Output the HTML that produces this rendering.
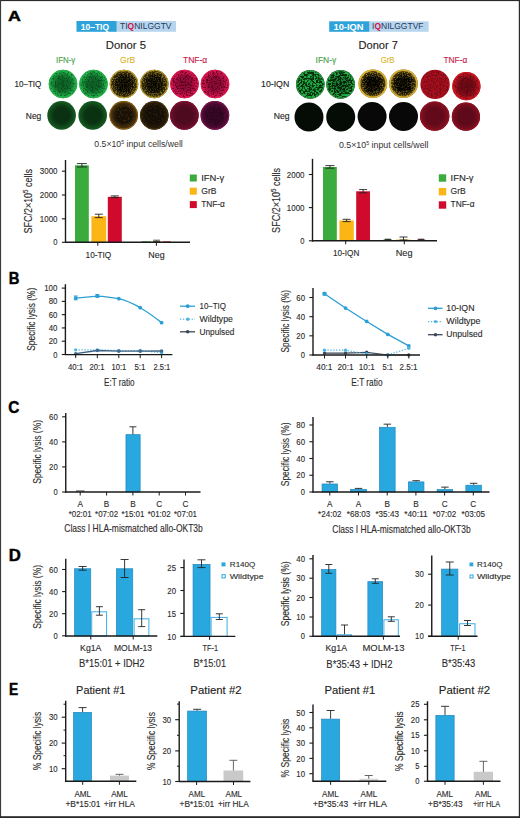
<!DOCTYPE html><html><head><meta charset="utf-8"><style>html,body{margin:0;padding:0;background:#fff;}svg{display:block;} text{font-family:"Liberation Sans", sans-serif;}</style></head><body>
<svg width="520" height="818" viewBox="0 0 520 818">
<defs><filter id="spk" x="0" y="0" width="100%" height="100%"><feTurbulence type="fractalNoise" baseFrequency="0.55" numOctaves="2" seed="3" result="n"/><feColorMatrix in="n" type="matrix" values="0 0 0 0 0  0 0 0 0 0  0 0 0 0 0  0 0 0 -2.2 1.25" result="m"/><feComposite in="m" in2="SourceGraphic" operator="in"/></filter><filter id="spk2" x="0" y="0" width="100%" height="100%"><feTurbulence type="fractalNoise" baseFrequency="0.6" numOctaves="2" seed="7" result="n"/><feColorMatrix in="n" type="matrix" values="0 0 0 0 1  0 0 0 0 1  0 0 0 0 1  0 0 0 -2.6 1.35" result="m"/><feComposite in="m" in2="SourceGraphic" operator="in"/></filter></defs>
<rect x="0" y="0" width="520" height="818" fill="#ffffff" stroke="none" stroke-width="0"/>
<defs><filter id="f2" x="0" y="0" width="100%" height="100%"><feTurbulence type="fractalNoise" baseFrequency="0.6" numOctaves="2" seed="17" result="n"/><feColorMatrix in="n" type="matrix" values="0 0 0 0 0  0 0 0 0 0  0 0 0 0 0  7 0 0 0 -3.5" result="m"/><feComposite in="SourceGraphic" in2="m" operator="in"/></filter><filter id="f3" x="0" y="0" width="100%" height="100%"><feTurbulence type="fractalNoise" baseFrequency="0.75" numOctaves="2" seed="24" result="n"/><feColorMatrix in="n" type="matrix" values="0 0 0 0 0  0 0 0 0 0  0 0 0 0 0  7 0 0 0 -4.34" result="m"/><feComposite in="SourceGraphic" in2="m" operator="in"/></filter><filter id="f5" x="0" y="0" width="100%" height="100%"><feTurbulence type="fractalNoise" baseFrequency="0.6" numOctaves="2" seed="38" result="n"/><feColorMatrix in="n" type="matrix" values="0 0 0 0 0  0 0 0 0 0  0 0 0 0 0  7 0 0 0 -3.5" result="m"/><feComposite in="SourceGraphic" in2="m" operator="in"/></filter><filter id="f6" x="0" y="0" width="100%" height="100%"><feTurbulence type="fractalNoise" baseFrequency="0.75" numOctaves="2" seed="45" result="n"/><feColorMatrix in="n" type="matrix" values="0 0 0 0 0  0 0 0 0 0  0 0 0 0 0  7 0 0 0 -4.34" result="m"/><feComposite in="SourceGraphic" in2="m" operator="in"/></filter><filter id="f8" x="0" y="0" width="100%" height="100%"><feTurbulence type="fractalNoise" baseFrequency="0.8" numOctaves="2" seed="59" result="n"/><feColorMatrix in="n" type="matrix" values="0 0 0 0 0  0 0 0 0 0  0 0 0 0 0  7 0 0 0 -3.5" result="m"/><feComposite in="SourceGraphic" in2="m" operator="in"/></filter><filter id="f9" x="0" y="0" width="100%" height="100%"><feTurbulence type="fractalNoise" baseFrequency="0.9" numOctaves="2" seed="66" result="n"/><feColorMatrix in="n" type="matrix" values="0 0 0 0 0  0 0 0 0 0  0 0 0 0 0  7 0 0 0 -4.2" result="m"/><feComposite in="SourceGraphic" in2="m" operator="in"/></filter><filter id="f11" x="0" y="0" width="100%" height="100%"><feTurbulence type="fractalNoise" baseFrequency="0.8" numOctaves="2" seed="80" result="n"/><feColorMatrix in="n" type="matrix" values="0 0 0 0 0  0 0 0 0 0  0 0 0 0 0  7 0 0 0 -3.5" result="m"/><feComposite in="SourceGraphic" in2="m" operator="in"/></filter><filter id="f12" x="0" y="0" width="100%" height="100%"><feTurbulence type="fractalNoise" baseFrequency="0.9" numOctaves="2" seed="87" result="n"/><feColorMatrix in="n" type="matrix" values="0 0 0 0 0  0 0 0 0 0  0 0 0 0 0  7 0 0 0 -4.2" result="m"/><feComposite in="SourceGraphic" in2="m" operator="in"/></filter><filter id="f14" x="0" y="0" width="100%" height="100%"><feTurbulence type="fractalNoise" baseFrequency="0.6" numOctaves="2" seed="101" result="n"/><feColorMatrix in="n" type="matrix" values="0 0 0 0 0  0 0 0 0 0  0 0 0 0 0  7 0 0 0 -3.5" result="m"/><feComposite in="SourceGraphic" in2="m" operator="in"/></filter><filter id="f15" x="0" y="0" width="100%" height="100%"><feTurbulence type="fractalNoise" baseFrequency="0.75" numOctaves="2" seed="108" result="n"/><feColorMatrix in="n" type="matrix" values="0 0 0 0 0  0 0 0 0 0  0 0 0 0 0  7 0 0 0 -4.48" result="m"/><feComposite in="SourceGraphic" in2="m" operator="in"/></filter><filter id="f17" x="0" y="0" width="100%" height="100%"><feTurbulence type="fractalNoise" baseFrequency="0.6" numOctaves="2" seed="122" result="n"/><feColorMatrix in="n" type="matrix" values="0 0 0 0 0  0 0 0 0 0  0 0 0 0 0  7 0 0 0 -3.5" result="m"/><feComposite in="SourceGraphic" in2="m" operator="in"/></filter><filter id="f18" x="0" y="0" width="100%" height="100%"><feTurbulence type="fractalNoise" baseFrequency="0.75" numOctaves="2" seed="129" result="n"/><feColorMatrix in="n" type="matrix" values="0 0 0 0 0  0 0 0 0 0  0 0 0 0 0  7 0 0 0 -4.48" result="m"/><feComposite in="SourceGraphic" in2="m" operator="in"/></filter><filter id="f22" x="0" y="0" width="100%" height="100%"><feTurbulence type="fractalNoise" baseFrequency="0.5" numOctaves="2" seed="157" result="n"/><feColorMatrix in="n" type="matrix" values="0 0 0 0 0  0 0 0 0 0  0 0 0 0 0  7 0 0 0 -3.85" result="m"/><feComposite in="SourceGraphic" in2="m" operator="in"/></filter><filter id="f24" x="0" y="0" width="100%" height="100%"><feTurbulence type="fractalNoise" baseFrequency="0.5" numOctaves="2" seed="171" result="n"/><feColorMatrix in="n" type="matrix" values="0 0 0 0 0  0 0 0 0 0  0 0 0 0 0  7 0 0 0 -3.85" result="m"/><feComposite in="SourceGraphic" in2="m" operator="in"/></filter><filter id="f27" x="0" y="0" width="100%" height="100%"><feTurbulence type="fractalNoise" baseFrequency="0.5" numOctaves="2" seed="192" result="n"/><feColorMatrix in="n" type="matrix" values="0 0 0 0 0  0 0 0 0 0  0 0 0 0 0  7 0 0 0 -3.85" result="m"/><feComposite in="SourceGraphic" in2="m" operator="in"/></filter><filter id="f29" x="0" y="0" width="100%" height="100%"><feTurbulence type="fractalNoise" baseFrequency="0.55" numOctaves="2" seed="206" result="n"/><feColorMatrix in="n" type="matrix" values="0 0 0 0 0  0 0 0 0 0  0 0 0 0 0  7 0 0 0 -3.15" result="m"/><feComposite in="SourceGraphic" in2="m" operator="in"/></filter><filter id="f31" x="0" y="0" width="100%" height="100%"><feTurbulence type="fractalNoise" baseFrequency="0.55" numOctaves="2" seed="220" result="n"/><feColorMatrix in="n" type="matrix" values="0 0 0 0 0  0 0 0 0 0  0 0 0 0 0  7 0 0 0 -3.22" result="m"/><feComposite in="SourceGraphic" in2="m" operator="in"/></filter><filter id="f33" x="0" y="0" width="100%" height="100%"><feTurbulence type="fractalNoise" baseFrequency="0.8" numOctaves="2" seed="234" result="n"/><feColorMatrix in="n" type="matrix" values="0 0 0 0 0  0 0 0 0 0  0 0 0 0 0  7 0 0 0 -3.5" result="m"/><feComposite in="SourceGraphic" in2="m" operator="in"/></filter><filter id="f34" x="0" y="0" width="100%" height="100%"><feTurbulence type="fractalNoise" baseFrequency="0.9" numOctaves="2" seed="241" result="n"/><feColorMatrix in="n" type="matrix" values="0 0 0 0 0  0 0 0 0 0  0 0 0 0 0  7 0 0 0 -4.2" result="m"/><feComposite in="SourceGraphic" in2="m" operator="in"/></filter><filter id="f36" x="0" y="0" width="100%" height="100%"><feTurbulence type="fractalNoise" baseFrequency="0.8" numOctaves="2" seed="255" result="n"/><feColorMatrix in="n" type="matrix" values="0 0 0 0 0  0 0 0 0 0  0 0 0 0 0  7 0 0 0 -3.5" result="m"/><feComposite in="SourceGraphic" in2="m" operator="in"/></filter><filter id="f37" x="0" y="0" width="100%" height="100%"><feTurbulence type="fractalNoise" baseFrequency="0.9" numOctaves="2" seed="262" result="n"/><feColorMatrix in="n" type="matrix" values="0 0 0 0 0  0 0 0 0 0  0 0 0 0 0  7 0 0 0 -4.2" result="m"/><feComposite in="SourceGraphic" in2="m" operator="in"/></filter><filter id="f39" x="0" y="0" width="100%" height="100%"><feTurbulence type="fractalNoise" baseFrequency="0.6" numOctaves="2" seed="276" result="n"/><feColorMatrix in="n" type="matrix" values="0 0 0 0 0  0 0 0 0 0  0 0 0 0 0  7 0 0 0 -3.5" result="m"/><feComposite in="SourceGraphic" in2="m" operator="in"/></filter><filter id="f40" x="0" y="0" width="100%" height="100%"><feTurbulence type="fractalNoise" baseFrequency="0.75" numOctaves="2" seed="283" result="n"/><feColorMatrix in="n" type="matrix" values="0 0 0 0 0  0 0 0 0 0  0 0 0 0 0  7 0 0 0 -4.48" result="m"/><feComposite in="SourceGraphic" in2="m" operator="in"/></filter><filter id="f42" x="0" y="0" width="100%" height="100%"><feTurbulence type="fractalNoise" baseFrequency="0.6" numOctaves="2" seed="297" result="n"/><feColorMatrix in="n" type="matrix" values="0 0 0 0 0  0 0 0 0 0  0 0 0 0 0  7 0 0 0 -3.5" result="m"/><feComposite in="SourceGraphic" in2="m" operator="in"/></filter><radialGradient id="g1"><stop offset="0" stop-color="#14903a"/><stop offset="0.55" stop-color="#14903a"/><stop offset="1" stop-color="#26b44c"/></radialGradient><radialGradient id="d3"><stop offset="0" stop-color="#000" stop-opacity="0.35"/><stop offset="0.45" stop-color="#000" stop-opacity="0.28"/><stop offset="0.85" stop-color="#000" stop-opacity="0"/></radialGradient><radialGradient id="g4"><stop offset="0" stop-color="#14903a"/><stop offset="0.55" stop-color="#14903a"/><stop offset="1" stop-color="#26b44c"/></radialGradient><radialGradient id="d6"><stop offset="0" stop-color="#000" stop-opacity="0.35"/><stop offset="0.45" stop-color="#000" stop-opacity="0.28"/><stop offset="0.85" stop-color="#000" stop-opacity="0"/></radialGradient><radialGradient id="g7"><stop offset="0" stop-color="#141004"/><stop offset="0.55" stop-color="#141004"/><stop offset="1" stop-color="#4a3c0e"/></radialGradient><radialGradient id="d9"><stop offset="0" stop-color="#000" stop-opacity="0.75"/><stop offset="0.45" stop-color="#000" stop-opacity="0.6"/><stop offset="0.85" stop-color="#000" stop-opacity="0"/></radialGradient><radialGradient id="g10"><stop offset="0" stop-color="#161204"/><stop offset="0.55" stop-color="#161204"/><stop offset="1" stop-color="#4a3c0e"/></radialGradient><radialGradient id="d12"><stop offset="0" stop-color="#000" stop-opacity="0.7"/><stop offset="0.45" stop-color="#000" stop-opacity="0.56"/><stop offset="0.85" stop-color="#000" stop-opacity="0"/></radialGradient><radialGradient id="g13"><stop offset="0" stop-color="#c20e48"/><stop offset="0.55" stop-color="#c20e48"/><stop offset="1" stop-color="#dc1852"/></radialGradient><radialGradient id="d15"><stop offset="0" stop-color="#000" stop-opacity="0.3"/><stop offset="0.45" stop-color="#000" stop-opacity="0.24"/><stop offset="0.85" stop-color="#000" stop-opacity="0"/></radialGradient><radialGradient id="g16"><stop offset="0" stop-color="#c20e48"/><stop offset="0.55" stop-color="#c20e48"/><stop offset="1" stop-color="#dc1852"/></radialGradient><radialGradient id="d18"><stop offset="0" stop-color="#000" stop-opacity="0.3"/><stop offset="0.45" stop-color="#000" stop-opacity="0.24"/><stop offset="0.85" stop-color="#000" stop-opacity="0"/></radialGradient><radialGradient id="g19"><stop offset="0" stop-color="#0a3212"/><stop offset="0.55" stop-color="#0a3212"/><stop offset="1" stop-color="#165c22"/></radialGradient><radialGradient id="g20"><stop offset="0" stop-color="#0a3212"/><stop offset="0.55" stop-color="#0a3212"/><stop offset="1" stop-color="#165c22"/></radialGradient><radialGradient id="g21"><stop offset="0" stop-color="#1a1206"/><stop offset="0.55" stop-color="#1a1206"/><stop offset="1" stop-color="#5e3e10"/></radialGradient><radialGradient id="g23"><stop offset="0" stop-color="#140e06"/><stop offset="0.55" stop-color="#140e06"/><stop offset="1" stop-color="#2e2008"/></radialGradient><radialGradient id="g25"><stop offset="0" stop-color="#4e0a1e"/><stop offset="0.55" stop-color="#4e0a1e"/><stop offset="1" stop-color="#6e0e2c"/></radialGradient><radialGradient id="g26"><stop offset="0" stop-color="#300622"/><stop offset="0.55" stop-color="#300622"/><stop offset="1" stop-color="#5a0c3a"/></radialGradient><radialGradient id="d31"><stop offset="0" stop-color="#000" stop-opacity="0.3"/><stop offset="0.45" stop-color="#000" stop-opacity="0.24"/><stop offset="0.85" stop-color="#000" stop-opacity="0"/></radialGradient><radialGradient id="g32"><stop offset="0" stop-color="#0a0804"/><stop offset="0.55" stop-color="#0a0804"/><stop offset="1" stop-color="#6a5414"/></radialGradient><radialGradient id="d34"><stop offset="0" stop-color="#000" stop-opacity="0.8"/><stop offset="0.45" stop-color="#000" stop-opacity="0.64"/><stop offset="0.85" stop-color="#000" stop-opacity="0"/></radialGradient><radialGradient id="g35"><stop offset="0" stop-color="#0a0804"/><stop offset="0.55" stop-color="#0a0804"/><stop offset="1" stop-color="#6a5414"/></radialGradient><radialGradient id="d37"><stop offset="0" stop-color="#000" stop-opacity="0.8"/><stop offset="0.45" stop-color="#000" stop-opacity="0.64"/><stop offset="0.85" stop-color="#000" stop-opacity="0"/></radialGradient><radialGradient id="g38"><stop offset="0" stop-color="#a00d1b"/><stop offset="0.55" stop-color="#a00d1b"/><stop offset="1" stop-color="#ae101e"/></radialGradient><radialGradient id="g41"><stop offset="0" stop-color="#9a0d1b"/><stop offset="0.55" stop-color="#9a0d1b"/><stop offset="1" stop-color="#c01622"/></radialGradient><radialGradient id="d42"><stop offset="0" stop-color="#000" stop-opacity="0.3"/><stop offset="0.45" stop-color="#000" stop-opacity="0.24"/><stop offset="0.85" stop-color="#000" stop-opacity="0"/></radialGradient><radialGradient id="g47"><stop offset="0" stop-color="#620a1a"/><stop offset="0.55" stop-color="#620a1a"/><stop offset="1" stop-color="#86101f"/></radialGradient><radialGradient id="g48"><stop offset="0" stop-color="#5e0a1a"/><stop offset="0.55" stop-color="#5e0a1a"/><stop offset="1" stop-color="#82101f"/></radialGradient></defs>
<text x="7.9" y="21.3" font-size="15" text-anchor="start" fill="#000" font-weight="bold" textLength="12.9" lengthAdjust="spacingAndGlyphs" stroke="#000" stroke-width="0.45">A</text>
<text x="8.7" y="284.1" font-size="15.7" text-anchor="start" fill="#000" font-weight="bold" textLength="10.7" lengthAdjust="spacingAndGlyphs" stroke="#000" stroke-width="0.45">B</text>
<text x="8.3" y="413.2" font-size="15.7" text-anchor="start" fill="#000" font-weight="bold" textLength="11.1" lengthAdjust="spacingAndGlyphs" stroke="#000" stroke-width="0.45">C</text>
<text x="8.7" y="560.5" font-size="15.7" text-anchor="start" fill="#000" font-weight="bold" textLength="12.1" lengthAdjust="spacingAndGlyphs" stroke="#000" stroke-width="0.45">D</text>
<text x="9.1" y="694.8" font-size="15.9" text-anchor="start" fill="#000" font-weight="bold" textLength="9.2" lengthAdjust="spacingAndGlyphs" stroke="#000" stroke-width="0.45">E</text>
<rect x="76.5" y="21" width="40.3" height="10.8" fill="#2ea3da" stroke="none" stroke-width="0"/>
<rect x="116.8" y="21" width="59.2" height="10.8" fill="#b7d6ee" stroke="none" stroke-width="0"/>
<text x="80.8" y="29.9" font-size="8.5" text-anchor="start" fill="#ffffff" font-weight="bold" textLength="28.2" lengthAdjust="spacingAndGlyphs">10&#8211;TIQ</text>
<text x="120" y="29.4" font-size="8.5" fill="#283a5e" textLength="51.5" lengthAdjust="spacingAndGlyphs">TI<tspan fill="#d31145" font-weight="bold">Q</tspan>NILGGTV</text>
<rect x="329.2" y="21.3" width="40.4" height="10.5" fill="#2ea3da" stroke="none" stroke-width="0"/>
<rect x="369.6" y="21.3" width="59" height="10.5" fill="#b7d6ee" stroke="none" stroke-width="0"/>
<text x="333.5" y="29.8" font-size="8.5" text-anchor="start" fill="#ffffff" font-weight="bold" textLength="30" lengthAdjust="spacingAndGlyphs">10-IQN</text>
<text x="372.1" y="29.4" font-size="8.5" fill="#283a5e" textLength="51.4" lengthAdjust="spacingAndGlyphs">I<tspan fill="#d31145" font-weight="bold">Q</tspan>NILGGTVF</text>
<text x="105.8" y="49.4" font-size="11" text-anchor="start" fill="#222" font-weight="normal" stroke="#222" stroke-width="0.12" textLength="40.2" lengthAdjust="spacingAndGlyphs">Donor 5</text>
<text x="358.5" y="49" font-size="11" text-anchor="start" fill="#222" font-weight="normal" stroke="#222" stroke-width="0.12" textLength="39.5" lengthAdjust="spacingAndGlyphs">Donor 7</text>
<text x="56" y="63.4" font-size="8.6" text-anchor="start" fill="#3fa24a" font-weight="normal" stroke="#3fa24a" stroke-width="0.12" textLength="19.2" lengthAdjust="spacingAndGlyphs">IFN-&#947;</text>
<text x="120" y="62.8" font-size="8.6" text-anchor="start" fill="#deb52a" font-weight="normal" stroke="#deb52a" stroke-width="0.12" textLength="15.2" lengthAdjust="spacingAndGlyphs">GrB</text>
<text x="183" y="63.2" font-size="8.6" text-anchor="start" fill="#c8184a" font-weight="normal" stroke="#c8184a" stroke-width="0.12" textLength="24.3" lengthAdjust="spacingAndGlyphs">TNF-&#945;</text>
<text x="315.6" y="63.2" font-size="8.6" text-anchor="start" fill="#3fa24a" font-weight="normal" stroke="#3fa24a" stroke-width="0.12" textLength="20.7" lengthAdjust="spacingAndGlyphs">IFN-&#947;</text>
<text x="380.7" y="63" font-size="8.6" text-anchor="start" fill="#deb52a" font-weight="normal" stroke="#deb52a" stroke-width="0.12" textLength="13.9" lengthAdjust="spacingAndGlyphs">GrB</text>
<text x="443.5" y="63.4" font-size="8.6" text-anchor="start" fill="#c8184a" font-weight="normal" stroke="#c8184a" stroke-width="0.12" textLength="23.7" lengthAdjust="spacingAndGlyphs">TNF-&#945;</text>
<text x="14.5" y="87" font-size="8.5" text-anchor="start" fill="#222" font-weight="normal" stroke="#222" stroke-width="0.12" textLength="26.8" lengthAdjust="spacingAndGlyphs">10&#8211;TIQ</text>
<text x="25.8" y="118.9" font-size="8.5" text-anchor="start" fill="#222" font-weight="normal" stroke="#222" stroke-width="0.12" textLength="15.5" lengthAdjust="spacingAndGlyphs">Neg</text>
<text x="261" y="86.9" font-size="8.5" text-anchor="start" fill="#222" font-weight="normal" stroke="#222" stroke-width="0.12" textLength="28.3" lengthAdjust="spacingAndGlyphs">10-IQN</text>
<text x="273.8" y="118.6" font-size="8.5" text-anchor="start" fill="#222" font-weight="normal" stroke="#222" stroke-width="0.12" textLength="15.8" lengthAdjust="spacingAndGlyphs">Neg</text>
<circle cx="63" cy="84" r="14.3" fill="url(#g1)"/>
<circle cx="63" cy="84" r="13.7" fill="#0a6424" filter="url(#f2)" opacity="0.85"/>
<circle cx="63" cy="84" r="13.7" fill="#40c858" filter="url(#f3)" opacity="0.45"/>
<circle cx="63" cy="84" r="14.3" fill="url(#d3)"/>
<circle cx="63" cy="84" r="13.8" fill="none" stroke="#2cb04c" stroke-width="1"/>
<circle cx="93.5" cy="84" r="14.3" fill="url(#g4)"/>
<circle cx="93.5" cy="84" r="13.7" fill="#0a6424" filter="url(#f5)" opacity="0.85"/>
<circle cx="93.5" cy="84" r="13.7" fill="#40c858" filter="url(#f6)" opacity="0.45"/>
<circle cx="93.5" cy="84" r="14.3" fill="url(#d6)"/>
<circle cx="93.5" cy="84" r="13.8" fill="none" stroke="#2cb04c" stroke-width="1"/>
<circle cx="124" cy="84" r="14.3" fill="url(#g7)"/>
<circle cx="124" cy="84" r="13.7" fill="#8a7620" filter="url(#f8)" opacity="0.85"/>
<circle cx="124" cy="84" r="13.7" fill="#d0b038" filter="url(#f9)" opacity="0.45"/>
<circle cx="124" cy="84" r="14.3" fill="url(#d9)"/>
<circle cx="124" cy="84" r="13.85" fill="none" stroke="#dcbc36" stroke-width="0.9"/>
<circle cx="154.3" cy="84" r="14.3" fill="url(#g10)"/>
<circle cx="154.3" cy="84" r="13.7" fill="#8a7620" filter="url(#f11)" opacity="0.85"/>
<circle cx="154.3" cy="84" r="13.7" fill="#d0b038" filter="url(#f12)" opacity="0.45"/>
<circle cx="154.3" cy="84" r="14.3" fill="url(#d12)"/>
<circle cx="154.3" cy="84" r="13.85" fill="none" stroke="#d4b434" stroke-width="0.9"/>
<circle cx="184.5" cy="84" r="14.3" fill="url(#g13)"/>
<circle cx="184.5" cy="84" r="13.7" fill="#5e0624" filter="url(#f14)" opacity="0.85"/>
<circle cx="184.5" cy="84" r="13.7" fill="#ee3c70" filter="url(#f15)" opacity="0.2"/>
<circle cx="184.5" cy="84" r="14.3" fill="url(#d15)"/>
<circle cx="184.5" cy="84" r="13.85" fill="none" stroke="#dc1a52" stroke-width="0.9"/>
<circle cx="215" cy="84" r="14.3" fill="url(#g16)"/>
<circle cx="215" cy="84" r="13.7" fill="#5e0624" filter="url(#f17)" opacity="0.85"/>
<circle cx="215" cy="84" r="13.7" fill="#ee3c70" filter="url(#f18)" opacity="0.2"/>
<circle cx="215" cy="84" r="14.3" fill="url(#d18)"/>
<circle cx="215" cy="84" r="13.85" fill="none" stroke="#dc1a52" stroke-width="0.9"/>
<circle cx="61.6" cy="115.4" r="14.3" fill="url(#g19)"/>
<circle cx="92.7" cy="115.4" r="14.3" fill="url(#g20)"/>
<circle cx="123.7" cy="115.3" r="14.3" fill="url(#g21)"/>
<circle cx="123.7" cy="115.3" r="13.7" fill="#5a3c10" filter="url(#f22)" opacity="0.5"/>
<circle cx="123.7" cy="115.3" r="13.8" fill="none" stroke="#8a6018" stroke-width="1"/>
<circle cx="154.3" cy="115.4" r="14.3" fill="url(#g23)"/>
<circle cx="154.3" cy="115.4" r="13.7" fill="#3a2a10" filter="url(#f24)" opacity="0.5"/>
<circle cx="154.3" cy="115.4" r="13.85" fill="none" stroke="#4a3810" stroke-width="0.9"/>
<circle cx="184.4" cy="115.4" r="14.3" fill="url(#g25)"/>
<circle cx="184.4" cy="115.4" r="13.7" fill="none" stroke="#7a1030" stroke-width="1.2"/>
<circle cx="214.9" cy="115.4" r="14.3" fill="url(#g26)"/>
<circle cx="214.9" cy="115.4" r="13.7" fill="#5a0c38" filter="url(#f27)" opacity="0.5"/>
<circle cx="214.9" cy="115.4" r="13.7" fill="none" stroke="#721248" stroke-width="1.2"/>
<circle cx="310.3" cy="84.4" r="14.3" fill="#0a300f"/>
<circle cx="310.3" cy="84.4" r="13.7" fill="#22b446" filter="url(#f29)" opacity="0.95"/>
<circle cx="310.3" cy="84.4" r="13.8" fill="none" stroke="#26a844" stroke-width="1"/>
<circle cx="340.6" cy="84.4" r="14.3" fill="#0a300f"/>
<circle cx="340.6" cy="84.4" r="13.7" fill="#22b446" filter="url(#f31)" opacity="0.95"/>
<circle cx="340.6" cy="84.4" r="14.3" fill="url(#d31)"/>
<circle cx="340.6" cy="84.4" r="13.8" fill="none" stroke="#26a844" stroke-width="1"/>
<circle cx="372.9" cy="83.7" r="14.3" fill="url(#g32)"/>
<circle cx="372.9" cy="83.7" r="13.7" fill="#8a7620" filter="url(#f33)" opacity="0.9"/>
<circle cx="372.9" cy="83.7" r="13.7" fill="#d0b038" filter="url(#f34)" opacity="0.7"/>
<circle cx="372.9" cy="83.7" r="14.3" fill="url(#d34)"/>
<circle cx="372.9" cy="83.7" r="13.5" fill="none" stroke="#dcb432" stroke-width="1.6"/>
<circle cx="403.5" cy="83.7" r="14.3" fill="url(#g35)"/>
<circle cx="403.5" cy="83.7" r="13.7" fill="#8a7620" filter="url(#f36)" opacity="0.9"/>
<circle cx="403.5" cy="83.7" r="13.7" fill="#d0b038" filter="url(#f37)" opacity="0.7"/>
<circle cx="403.5" cy="83.7" r="14.3" fill="url(#d37)"/>
<circle cx="403.5" cy="83.7" r="13.5" fill="none" stroke="#d4ae32" stroke-width="1.6"/>
<circle cx="435.1" cy="84.4" r="14.7" fill="url(#g38)"/>
<circle cx="435.1" cy="84.4" r="14.1" fill="#680a14" filter="url(#f39)" opacity="0.8"/>
<circle cx="435.1" cy="84.4" r="14.1" fill="#d02a34" filter="url(#f40)" opacity="0.3"/>
<circle cx="466.4" cy="86.2" r="14.1" fill="url(#g41)"/>
<circle cx="466.4" cy="86.2" r="13.5" fill="#680a16" filter="url(#f42)" opacity="0.8"/>
<circle cx="466.4" cy="86.2" r="14.1" fill="url(#d42)"/>
<circle cx="466.4" cy="86.2" r="13.5" fill="none" stroke="#c81822" stroke-width="1.2"/>
<circle cx="309" cy="117.1" r="14.5" fill="#050c05"/>
<circle cx="340.7" cy="117.1" r="14.5" fill="#050c05"/>
<circle cx="372.1" cy="116.6" r="14.5" fill="#080808"/>
<circle cx="403.5" cy="116.6" r="14.5" fill="#080808"/>
<circle cx="434.7" cy="116.1" r="14.7" fill="url(#g47)"/>
<circle cx="434.7" cy="116.1" r="14" fill="none" stroke="#8e1022" stroke-width="1.4"/>
<circle cx="465.9" cy="116.7" r="14.1" fill="url(#g48)"/>
<circle cx="465.9" cy="116.7" r="13.4" fill="none" stroke="#8a1022" stroke-width="1.4"/>
<text x="94.3" y="147.3" font-size="8.4" fill="#333" textLength="88.5" lengthAdjust="spacingAndGlyphs">0.5&#215;10<tspan font-size="5" dy="-3.2">5</tspan><tspan dy="3.2"> input cells/well</tspan></text>
<text x="338.9" y="147.8" font-size="8.4" fill="#333" textLength="89.6" lengthAdjust="spacingAndGlyphs">0.5&#215;10<tspan font-size="5" dy="-3.2">5</tspan><tspan dy="3.2"> input cells/well</tspan></text>
<line x1="65.5" y1="160" x2="65.5" y2="242.6" stroke="#1a1a1a" stroke-width="1.4"/>
<line x1="61.9" y1="171.2" x2="65.5" y2="171.2" stroke="#1a1a1a" stroke-width="1.1"/>
<text x="57.5" y="174.3" font-size="8.8" text-anchor="end" fill="#2b2b2b" font-weight="normal" stroke="#2b2b2b" stroke-width="0.12" textLength="17.7" lengthAdjust="spacingAndGlyphs">3000</text>
<line x1="61.9" y1="195" x2="65.5" y2="195" stroke="#1a1a1a" stroke-width="1.1"/>
<text x="57.5" y="198.1" font-size="8.8" text-anchor="end" fill="#2b2b2b" font-weight="normal" stroke="#2b2b2b" stroke-width="0.12" textLength="17.7" lengthAdjust="spacingAndGlyphs">2000</text>
<line x1="61.9" y1="218.8" x2="65.5" y2="218.8" stroke="#1a1a1a" stroke-width="1.1"/>
<text x="57.5" y="221.9" font-size="8.8" text-anchor="end" fill="#2b2b2b" font-weight="normal" stroke="#2b2b2b" stroke-width="0.12" textLength="17.7" lengthAdjust="spacingAndGlyphs">1000</text>
<line x1="61.9" y1="242.3" x2="65.5" y2="242.3" stroke="#1a1a1a" stroke-width="1.1"/>
<text x="57.5" y="245.4" font-size="8.8" text-anchor="end" fill="#2b2b2b" font-weight="normal" stroke="#2b2b2b" stroke-width="0.12" textLength="4.2" lengthAdjust="spacingAndGlyphs">0</text>
<rect x="75" y="165.3" width="13.8" height="76.7" fill="#3aab3c" stroke="none" stroke-width="0"/>
<rect x="91.4" y="216.2" width="14.8" height="25.8" fill="#fbb616" stroke="none" stroke-width="0"/>
<rect x="107.8" y="196.8" width="14" height="45.2" fill="#cf0a2c" stroke="none" stroke-width="0"/>
<line x1="81.9" y1="163.6" x2="81.9" y2="167" stroke="#222" stroke-width="0.9"/>
<line x1="76.9" y1="163.6" x2="86.9" y2="163.6" stroke="#222" stroke-width="0.9"/>
<line x1="76.9" y1="167" x2="86.9" y2="167" stroke="#222" stroke-width="0.9"/>
<line x1="98.8" y1="214.2" x2="98.8" y2="217.6" stroke="#222" stroke-width="0.9"/>
<line x1="94.8" y1="214.2" x2="102.8" y2="214.2" stroke="#222" stroke-width="0.9"/>
<line x1="94.8" y1="217.6" x2="102.8" y2="217.6" stroke="#222" stroke-width="0.9"/>
<line x1="114.8" y1="195.9" x2="114.8" y2="197.6" stroke="#222" stroke-width="0.9"/>
<line x1="110.8" y1="195.9" x2="118.8" y2="195.9" stroke="#222" stroke-width="0.9"/>
<line x1="110.8" y1="197.6" x2="118.8" y2="197.6" stroke="#222" stroke-width="0.9"/>
<rect x="141.5" y="241.3" width="9.5" height="0.7" fill="#3aab3c" stroke="none" stroke-width="0"/>
<rect x="152.5" y="241.2" width="8.5" height="0.8" fill="#fbb616" stroke="none" stroke-width="0"/>
<rect x="162.5" y="241.4" width="8.5" height="0.6" fill="#cf0a2c" stroke="none" stroke-width="0"/>
<line x1="156.6" y1="240.2" x2="156.6" y2="241.5" stroke="#333" stroke-width="0.8"/>
<line x1="153.1" y1="240.2" x2="160.1" y2="240.2" stroke="#333" stroke-width="0.8"/>
<line x1="153.1" y1="241.5" x2="160.1" y2="241.5" stroke="#333" stroke-width="0.8"/>
<text x="85.6" y="257.8" font-size="8.5" text-anchor="start" fill="#2b2b2b" font-weight="normal" stroke="#2b2b2b" stroke-width="0.12" textLength="25.7" lengthAdjust="spacingAndGlyphs">10-TIQ</text>
<text x="148.3" y="257.6" font-size="8.5" text-anchor="start" fill="#2b2b2b" font-weight="normal" stroke="#2b2b2b" stroke-width="0.12" textLength="16.3" lengthAdjust="spacingAndGlyphs">Neg</text>
<text transform="translate(31.6,201.3) rotate(-90)" x="0" y="0" font-size="10.4" text-anchor="middle" fill="#2b2b2b" stroke="#2b2b2b" stroke-width="0.12" textLength="64.5" lengthAdjust="spacingAndGlyphs">SFC/2&#215;10<tspan font-size="7" dy="-3.6">5</tspan><tspan dy="3.6"> cells</tspan></text>
<rect x="189.8" y="174.5" width="7" height="7" fill="#3aab3c" stroke="none" stroke-width="0"/>
<rect x="189.8" y="187.7" width="7" height="7" fill="#fbb616" stroke="none" stroke-width="0"/>
<rect x="189.8" y="201.1" width="7" height="7" fill="#cf0a2c" stroke="none" stroke-width="0"/>
<text x="201.2" y="181" font-size="8.4" text-anchor="start" fill="#2b2b2b" font-weight="normal" stroke="#2b2b2b" stroke-width="0.12" textLength="23" lengthAdjust="spacingAndGlyphs">IFN-&#947;</text>
<text x="201.2" y="193.6" font-size="8.4" text-anchor="start" fill="#2b2b2b" font-weight="normal" stroke="#2b2b2b" stroke-width="0.12" textLength="15.3" lengthAdjust="spacingAndGlyphs">GrB</text>
<text x="201.2" y="207.3" font-size="8.4" text-anchor="start" fill="#2b2b2b" font-weight="normal" stroke="#2b2b2b" stroke-width="0.12" textLength="23.7" lengthAdjust="spacingAndGlyphs">TNF-&#945;</text>
<line x1="312.5" y1="158.8" x2="312.5" y2="241.6" stroke="#1a1a1a" stroke-width="1.4"/>
<line x1="308.9" y1="174.5" x2="312.5" y2="174.5" stroke="#1a1a1a" stroke-width="1.1"/>
<text x="304.5" y="177.6" font-size="8.8" text-anchor="end" fill="#2b2b2b" font-weight="normal" stroke="#2b2b2b" stroke-width="0.12" textLength="17.7" lengthAdjust="spacingAndGlyphs">2000</text>
<line x1="308.9" y1="207.6" x2="312.5" y2="207.6" stroke="#1a1a1a" stroke-width="1.1"/>
<text x="304.5" y="210.7" font-size="8.8" text-anchor="end" fill="#2b2b2b" font-weight="normal" stroke="#2b2b2b" stroke-width="0.12" textLength="17.7" lengthAdjust="spacingAndGlyphs">1000</text>
<line x1="308.9" y1="240.8" x2="312.5" y2="240.8" stroke="#1a1a1a" stroke-width="1.1"/>
<text x="304.5" y="243.9" font-size="8.8" text-anchor="end" fill="#2b2b2b" font-weight="normal" stroke="#2b2b2b" stroke-width="0.12" textLength="4.2" lengthAdjust="spacingAndGlyphs">0</text>
<rect x="323" y="167" width="13.8" height="73.5" fill="#3aab3c" stroke="none" stroke-width="0"/>
<rect x="339.4" y="220.5" width="14.4" height="20" fill="#fbb616" stroke="none" stroke-width="0"/>
<rect x="356.2" y="191.3" width="13.8" height="49.2" fill="#cf0a2c" stroke="none" stroke-width="0"/>
<line x1="329.9" y1="165.6" x2="329.9" y2="168.2" stroke="#222" stroke-width="0.9"/>
<line x1="325.4" y1="165.6" x2="334.4" y2="165.6" stroke="#222" stroke-width="0.9"/>
<line x1="325.4" y1="168.2" x2="334.4" y2="168.2" stroke="#222" stroke-width="0.9"/>
<line x1="346.6" y1="219.3" x2="346.6" y2="221.6" stroke="#222" stroke-width="0.9"/>
<line x1="342.6" y1="219.3" x2="350.6" y2="219.3" stroke="#222" stroke-width="0.9"/>
<line x1="342.6" y1="221.6" x2="350.6" y2="221.6" stroke="#222" stroke-width="0.9"/>
<line x1="363.1" y1="189.6" x2="363.1" y2="192.8" stroke="#222" stroke-width="0.9"/>
<line x1="359.1" y1="189.6" x2="367.1" y2="189.6" stroke="#222" stroke-width="0.9"/>
<line x1="359.1" y1="192.8" x2="367.1" y2="192.8" stroke="#222" stroke-width="0.9"/>
<rect x="383.5" y="239.4" width="8.5" height="1.6" fill="#3aab3c" stroke="none" stroke-width="0"/>
<rect x="396" y="239.6" width="15" height="1.4" fill="#fbb616" stroke="none" stroke-width="0"/>
<rect x="417" y="239.6" width="8.5" height="1.4" fill="#cf0a2c" stroke="none" stroke-width="0"/>
<line x1="387.8" y1="239.2" x2="387.8" y2="239.8" stroke="#222" stroke-width="0.9"/>
<line x1="384.8" y1="239.2" x2="390.8" y2="239.2" stroke="#222" stroke-width="0.9"/>
<line x1="384.8" y1="239.8" x2="390.8" y2="239.8" stroke="#222" stroke-width="0.9"/>
<line x1="403.5" y1="237" x2="403.5" y2="240" stroke="#222" stroke-width="0.9"/>
<line x1="399.5" y1="237" x2="407.5" y2="237" stroke="#222" stroke-width="0.9"/>
<line x1="399.5" y1="240" x2="407.5" y2="240" stroke="#222" stroke-width="0.9"/>
<line x1="421.2" y1="239.2" x2="421.2" y2="239.8" stroke="#222" stroke-width="0.9"/>
<line x1="418.2" y1="239.2" x2="424.2" y2="239.2" stroke="#222" stroke-width="0.9"/>
<line x1="418.2" y1="239.8" x2="424.2" y2="239.8" stroke="#222" stroke-width="0.9"/>
<text x="333" y="256.2" font-size="8.5" text-anchor="start" fill="#2b2b2b" font-weight="normal" stroke="#2b2b2b" stroke-width="0.12" textLength="26.3" lengthAdjust="spacingAndGlyphs">10-IQN</text>
<text x="395.7" y="256.2" font-size="8.5" text-anchor="start" fill="#2b2b2b" font-weight="normal" stroke="#2b2b2b" stroke-width="0.12" textLength="16.8" lengthAdjust="spacingAndGlyphs">Neg</text>
<text transform="translate(279.9,200.4) rotate(-90)" x="0" y="0" font-size="10.4" text-anchor="middle" fill="#2b2b2b" stroke="#2b2b2b" stroke-width="0.12" textLength="65" lengthAdjust="spacingAndGlyphs">SFC/2&#215;10<tspan font-size="7" dy="-3.6">5</tspan><tspan dy="3.6"> cells</tspan></text>
<rect x="438.8" y="174.3" width="7.4" height="7.4" fill="#3aab3c" stroke="none" stroke-width="0"/>
<rect x="438.8" y="188" width="7.4" height="7.4" fill="#fbb616" stroke="none" stroke-width="0"/>
<rect x="438.8" y="201.3" width="7.4" height="7.4" fill="#cf0a2c" stroke="none" stroke-width="0"/>
<text x="450.5" y="180.9" font-size="8.2" text-anchor="start" fill="#2b2b2b" font-weight="normal" stroke="#2b2b2b" stroke-width="0.12" textLength="23.1" lengthAdjust="spacingAndGlyphs">IFN-&#947;</text>
<text x="450.5" y="194.2" font-size="8.2" text-anchor="start" fill="#2b2b2b" font-weight="normal" stroke="#2b2b2b" stroke-width="0.12" textLength="15.3" lengthAdjust="spacingAndGlyphs">GrB</text>
<text x="450.5" y="207" font-size="8.2" text-anchor="start" fill="#2b2b2b" font-weight="normal" stroke="#2b2b2b" stroke-width="0.12" textLength="24" lengthAdjust="spacingAndGlyphs">TNF-&#945;</text>
<line x1="65.4" y1="284.2" x2="65.4" y2="355.1" stroke="#1a1a1a" stroke-width="1.4"/>
<line x1="61.8" y1="288.1" x2="65.4" y2="288.1" stroke="#1a1a1a" stroke-width="1.1"/>
<text x="57.4" y="291.2" font-size="8.8" text-anchor="end" fill="#2b2b2b" font-weight="normal" stroke="#2b2b2b" stroke-width="0.12" textLength="13.2" lengthAdjust="spacingAndGlyphs">100</text>
<line x1="61.8" y1="301.38" x2="65.4" y2="301.38" stroke="#1a1a1a" stroke-width="1.1"/>
<text x="57.4" y="304.48" font-size="8.8" text-anchor="end" fill="#2b2b2b" font-weight="normal" stroke="#2b2b2b" stroke-width="0.12" textLength="8.7" lengthAdjust="spacingAndGlyphs">80</text>
<line x1="61.8" y1="314.66" x2="65.4" y2="314.66" stroke="#1a1a1a" stroke-width="1.1"/>
<text x="57.4" y="317.76" font-size="8.8" text-anchor="end" fill="#2b2b2b" font-weight="normal" stroke="#2b2b2b" stroke-width="0.12" textLength="8.7" lengthAdjust="spacingAndGlyphs">60</text>
<line x1="61.8" y1="327.94" x2="65.4" y2="327.94" stroke="#1a1a1a" stroke-width="1.1"/>
<text x="57.4" y="331.04" font-size="8.8" text-anchor="end" fill="#2b2b2b" font-weight="normal" stroke="#2b2b2b" stroke-width="0.12" textLength="8.7" lengthAdjust="spacingAndGlyphs">40</text>
<line x1="61.8" y1="341.22" x2="65.4" y2="341.22" stroke="#1a1a1a" stroke-width="1.1"/>
<text x="57.4" y="344.32" font-size="8.8" text-anchor="end" fill="#2b2b2b" font-weight="normal" stroke="#2b2b2b" stroke-width="0.12" textLength="8.7" lengthAdjust="spacingAndGlyphs">20</text>
<line x1="61.8" y1="354.5" x2="65.4" y2="354.5" stroke="#1a1a1a" stroke-width="1.1"/>
<text x="57.4" y="357.6" font-size="8.8" text-anchor="end" fill="#2b2b2b" font-weight="normal" stroke="#2b2b2b" stroke-width="0.12" textLength="4.2" lengthAdjust="spacingAndGlyphs">0</text>
<path d="M75.7,298.06 L97.3,296.07 C104,296.07 111,297.92 118.8,298.72 C126,300.22 133,303.69 140.2,307.69 C147,311.69 154,316.63 161.6,322.63" fill="none" stroke="#2b9fd6" stroke-width="1.3"/>
<circle cx="75.7" cy="298.06" r="1.9" fill="#2b9fd6"/>
<circle cx="97.3" cy="296.07" r="1.9" fill="#2b9fd6"/>
<circle cx="118.8" cy="298.72" r="1.9" fill="#2b9fd6"/>
<circle cx="140.2" cy="307.69" r="1.9" fill="#2b9fd6"/>
<circle cx="161.6" cy="322.63" r="1.9" fill="#2b9fd6"/>
<line x1="75.7" y1="296" x2="75.7" y2="299.8" stroke="#2b9fd6" stroke-width="1"/>
<line x1="73.7" y1="296" x2="77.7" y2="296" stroke="#2b9fd6" stroke-width="1"/>
<line x1="73.7" y1="299.8" x2="77.7" y2="299.8" stroke="#2b9fd6" stroke-width="1"/>
<line x1="97.3" y1="294.5" x2="97.3" y2="297.2" stroke="#2b9fd6" stroke-width="1"/>
<line x1="95.3" y1="294.5" x2="99.3" y2="294.5" stroke="#2b9fd6" stroke-width="1"/>
<line x1="95.3" y1="297.2" x2="99.3" y2="297.2" stroke="#2b9fd6" stroke-width="1"/>
<path d="M75.7,349.85 L97.3,349.85 L118.8,350.52 L140.2,350.52 L161.6,352.84" fill="none" stroke="#52b4e2" stroke-width="1.2" stroke-dasharray="1.3,1.6"/>
<circle cx="75.7" cy="349.85" r="1.7" fill="#52b4e2"/>
<circle cx="97.3" cy="349.85" r="1.7" fill="#52b4e2"/>
<circle cx="118.8" cy="350.52" r="1.7" fill="#52b4e2"/>
<circle cx="140.2" cy="350.52" r="1.7" fill="#52b4e2"/>
<circle cx="161.6" cy="352.84" r="1.7" fill="#52b4e2"/>
<path d="M75.7,353.7 L97.3,350.52 L118.8,351.18 L140.2,351.18 L161.6,350.98" fill="none" stroke="#3a5f80" stroke-width="1.3"/>
<circle cx="75.7" cy="353.7" r="1.8" fill="#3d6a8e"/>
<circle cx="97.3" cy="350.52" r="1.8" fill="#3d6a8e"/>
<circle cx="118.8" cy="351.18" r="1.8" fill="#3d6a8e"/>
<circle cx="140.2" cy="351.18" r="1.8" fill="#3d6a8e"/>
<circle cx="161.6" cy="350.98" r="1.8" fill="#3d6a8e"/>
<text x="68" y="369.5" font-size="8.9" text-anchor="start" fill="#2b2b2b" font-weight="normal" stroke="#2b2b2b" stroke-width="0.12" textLength="15.2" lengthAdjust="spacingAndGlyphs">40:1</text>
<text x="89.6" y="369.5" font-size="8.9" text-anchor="start" fill="#2b2b2b" font-weight="normal" stroke="#2b2b2b" stroke-width="0.12" textLength="14.9" lengthAdjust="spacingAndGlyphs">20:1</text>
<text x="111.4" y="369.5" font-size="8.9" text-anchor="start" fill="#2b2b2b" font-weight="normal" stroke="#2b2b2b" stroke-width="0.12" textLength="14.9" lengthAdjust="spacingAndGlyphs">10:1</text>
<text x="134.4" y="369.5" font-size="8.9" text-anchor="start" fill="#2b2b2b" font-weight="normal" stroke="#2b2b2b" stroke-width="0.12" textLength="11" lengthAdjust="spacingAndGlyphs">5:1</text>
<text x="153.5" y="369.5" font-size="8.9" text-anchor="start" fill="#2b2b2b" font-weight="normal" stroke="#2b2b2b" stroke-width="0.12" textLength="16.8" lengthAdjust="spacingAndGlyphs">2.5:1</text>
<text x="104.1" y="385.9" font-size="10" text-anchor="start" fill="#2b2b2b" font-weight="normal" stroke="#2b2b2b" stroke-width="0.12" textLength="30.4" lengthAdjust="spacingAndGlyphs">E:T ratio</text>
<text transform="translate(34.9,319.2) rotate(-90)" x="0" y="0" font-size="10.5" text-anchor="middle" fill="#2b2b2b" stroke="#2b2b2b" stroke-width="0.12" textLength="63" lengthAdjust="spacingAndGlyphs">Specific lysis (%)</text>
<line x1="180" y1="306.2" x2="195" y2="306.2" stroke="#2b9fd6" stroke-width="1.3"/>
<circle cx="187.7" cy="306.2" r="1.9" fill="#2b9fd6"/>
<line x1="180" y1="319.2" x2="195" y2="319.2" stroke="#52b4e2" stroke-width="1.2" stroke-dasharray="1.3,1.6"/>
<circle cx="187.7" cy="319.2" r="1.7" fill="#52b4e2"/>
<line x1="180" y1="331.8" x2="195" y2="331.8" stroke="#3c4757" stroke-width="1.3"/>
<circle cx="187.7" cy="331.8" r="1.8" fill="#3c4757"/>
<text x="199.5" y="308.9" font-size="8.5" text-anchor="start" fill="#2b2b2b" font-weight="normal" stroke="#2b2b2b" stroke-width="0.12" textLength="26.5" lengthAdjust="spacingAndGlyphs">10&#8211;TIQ</text>
<text x="199.5" y="322" font-size="8.5" text-anchor="start" fill="#2b2b2b" font-weight="normal" stroke="#2b2b2b" stroke-width="0.12" textLength="33.3" lengthAdjust="spacingAndGlyphs">Wildtype</text>
<text x="199.5" y="334.6" font-size="8.5" text-anchor="start" fill="#2b2b2b" font-weight="normal" stroke="#2b2b2b" stroke-width="0.12" textLength="34.9" lengthAdjust="spacingAndGlyphs">Unpulsed</text>
<line x1="313" y1="288" x2="313" y2="355.6" stroke="#1a1a1a" stroke-width="1.4"/>
<line x1="309.4" y1="297.5" x2="313" y2="297.5" stroke="#1a1a1a" stroke-width="1.1"/>
<text x="305" y="300.6" font-size="8.8" text-anchor="end" fill="#2b2b2b" font-weight="normal" stroke="#2b2b2b" stroke-width="0.12" textLength="8.7" lengthAdjust="spacingAndGlyphs">60</text>
<line x1="309.4" y1="316.67" x2="313" y2="316.67" stroke="#1a1a1a" stroke-width="1.1"/>
<text x="305" y="319.77" font-size="8.8" text-anchor="end" fill="#2b2b2b" font-weight="normal" stroke="#2b2b2b" stroke-width="0.12" textLength="8.7" lengthAdjust="spacingAndGlyphs">40</text>
<line x1="309.4" y1="335.83" x2="313" y2="335.83" stroke="#1a1a1a" stroke-width="1.1"/>
<text x="305" y="338.93" font-size="8.8" text-anchor="end" fill="#2b2b2b" font-weight="normal" stroke="#2b2b2b" stroke-width="0.12" textLength="8.7" lengthAdjust="spacingAndGlyphs">20</text>
<line x1="309.4" y1="355" x2="313" y2="355" stroke="#1a1a1a" stroke-width="1.1"/>
<text x="305" y="358.1" font-size="8.8" text-anchor="end" fill="#2b2b2b" font-weight="normal" stroke="#2b2b2b" stroke-width="0.12" textLength="4.2" lengthAdjust="spacingAndGlyphs">0</text>
<path d="M324.5,293.67 L345.5,308.04 L366.7,321.46 L387.8,334.4 L408.8,345.9" fill="none" stroke="#2b9fd6" stroke-width="1.3"/>
<circle cx="324.5" cy="293.67" r="1.9" fill="#2b9fd6"/>
<circle cx="345.5" cy="308.04" r="1.9" fill="#2b9fd6"/>
<circle cx="366.7" cy="321.46" r="1.9" fill="#2b9fd6"/>
<circle cx="387.8" cy="334.4" r="1.9" fill="#2b9fd6"/>
<circle cx="408.8" cy="345.9" r="1.9" fill="#2b9fd6"/>
<rect x="322.6" y="291.9" width="3.8" height="3.8" fill="#2b9fd6" stroke="none" stroke-width="0"/>
<path d="M324.5,353.08 L345.5,353.08 L366.7,352.32 L387.8,355 L408.8,355" fill="none" stroke="#3c4757" stroke-width="1.2"/>
<circle cx="324.5" cy="353.08" r="1.7" fill="#3c4757"/>
<circle cx="345.5" cy="353.08" r="1.7" fill="#3c4757"/>
<circle cx="366.7" cy="352.32" r="1.7" fill="#3c4757"/>
<circle cx="387.8" cy="355" r="1.7" fill="#3c4757"/>
<circle cx="408.8" cy="355" r="1.7" fill="#3c4757"/>
<path d="M324.5,350.21 L345.5,350.21 L366.7,354.04 L387.8,355 L408.8,348.29" fill="none" stroke="#52b4e2" stroke-width="1.2" stroke-dasharray="1.3,1.6"/>
<circle cx="324.5" cy="350.21" r="1.7" fill="#52b4e2"/>
<circle cx="345.5" cy="350.21" r="1.7" fill="#52b4e2"/>
<circle cx="366.7" cy="354.04" r="1.7" fill="#52b4e2"/>
<circle cx="387.8" cy="355" r="1.7" fill="#52b4e2"/>
<circle cx="408.8" cy="348.29" r="1.7" fill="#52b4e2"/>
<text x="316.3" y="369.8" font-size="8.9" text-anchor="start" fill="#2b2b2b" font-weight="normal" stroke="#2b2b2b" stroke-width="0.12" textLength="16.2" lengthAdjust="spacingAndGlyphs">40:1</text>
<text x="337.5" y="369.8" font-size="8.9" text-anchor="start" fill="#2b2b2b" font-weight="normal" stroke="#2b2b2b" stroke-width="0.12" textLength="16" lengthAdjust="spacingAndGlyphs">20:1</text>
<text x="358.8" y="369.8" font-size="8.9" text-anchor="start" fill="#2b2b2b" font-weight="normal" stroke="#2b2b2b" stroke-width="0.12" textLength="15.9" lengthAdjust="spacingAndGlyphs">10:1</text>
<text x="382.5" y="369.8" font-size="8.9" text-anchor="start" fill="#2b2b2b" font-weight="normal" stroke="#2b2b2b" stroke-width="0.12" textLength="10.5" lengthAdjust="spacingAndGlyphs">5:1</text>
<text x="399.6" y="369.8" font-size="8.9" text-anchor="start" fill="#2b2b2b" font-weight="normal" stroke="#2b2b2b" stroke-width="0.12" textLength="17.9" lengthAdjust="spacingAndGlyphs">2.5:1</text>
<text x="351.3" y="385.6" font-size="10" text-anchor="start" fill="#2b2b2b" font-weight="normal" stroke="#2b2b2b" stroke-width="0.12" textLength="31.2" lengthAdjust="spacingAndGlyphs">E:T ratio</text>
<text transform="translate(288.5,321.2) rotate(-90)" x="0" y="0" font-size="10.5" text-anchor="middle" fill="#2b2b2b" stroke="#2b2b2b" stroke-width="0.12" textLength="62.5" lengthAdjust="spacingAndGlyphs">Specific lysis (%)</text>
<line x1="428" y1="308.3" x2="442.6" y2="308.3" stroke="#2b9fd6" stroke-width="1.3"/>
<circle cx="435.5" cy="308.3" r="1.9" fill="#2b9fd6"/>
<line x1="428" y1="321.6" x2="442.6" y2="321.6" stroke="#52b4e2" stroke-width="1.2" stroke-dasharray="1.3,1.6"/>
<circle cx="435.5" cy="321.6" r="1.7" fill="#52b4e2"/>
<line x1="428" y1="334.7" x2="442.6" y2="334.7" stroke="#3c4757" stroke-width="1.3"/>
<circle cx="435.5" cy="334.7" r="1.8" fill="#3c4757"/>
<text x="446.3" y="311.1" font-size="8.5" text-anchor="start" fill="#2b2b2b" font-weight="normal" stroke="#2b2b2b" stroke-width="0.12" textLength="28.2" lengthAdjust="spacingAndGlyphs">10-IQN</text>
<text x="446.3" y="324.2" font-size="8.5" text-anchor="start" fill="#2b2b2b" font-weight="normal" stroke="#2b2b2b" stroke-width="0.12" textLength="34.2" lengthAdjust="spacingAndGlyphs">Wildtype</text>
<text x="446.3" y="337.2" font-size="8.5" text-anchor="start" fill="#2b2b2b" font-weight="normal" stroke="#2b2b2b" stroke-width="0.12" textLength="36.2" lengthAdjust="spacingAndGlyphs">Unpulsed</text>
<line x1="65.75" y1="413" x2="65.75" y2="492.6" stroke="#1a1a1a" stroke-width="1.4"/>
<line x1="62.15" y1="416.8" x2="65.75" y2="416.8" stroke="#1a1a1a" stroke-width="1.1"/>
<text x="57.75" y="419.9" font-size="8.8" text-anchor="end" fill="#2b2b2b" font-weight="normal" stroke="#2b2b2b" stroke-width="0.12" textLength="8.7" lengthAdjust="spacingAndGlyphs">60</text>
<line x1="62.15" y1="441.87" x2="65.75" y2="441.87" stroke="#1a1a1a" stroke-width="1.1"/>
<text x="57.75" y="444.97" font-size="8.8" text-anchor="end" fill="#2b2b2b" font-weight="normal" stroke="#2b2b2b" stroke-width="0.12" textLength="8.7" lengthAdjust="spacingAndGlyphs">40</text>
<line x1="62.15" y1="466.93" x2="65.75" y2="466.93" stroke="#1a1a1a" stroke-width="1.1"/>
<text x="57.75" y="470.03" font-size="8.8" text-anchor="end" fill="#2b2b2b" font-weight="normal" stroke="#2b2b2b" stroke-width="0.12" textLength="8.7" lengthAdjust="spacingAndGlyphs">20</text>
<line x1="62.15" y1="492" x2="65.75" y2="492" stroke="#1a1a1a" stroke-width="1.1"/>
<text x="57.75" y="495.1" font-size="8.8" text-anchor="end" fill="#2b2b2b" font-weight="normal" stroke="#2b2b2b" stroke-width="0.12" textLength="4.2" lengthAdjust="spacingAndGlyphs">0</text>
<rect x="125.95" y="434.65" width="14.2" height="57.35" fill="#29a8e0" stroke="#2487bd" stroke-width="0.7"/>
<line x1="132.9" y1="426.8" x2="132.9" y2="434.3" stroke="#222" stroke-width="0.9"/>
<line x1="129.4" y1="426.8" x2="136.4" y2="426.8" stroke="#222" stroke-width="0.9"/>
<line x1="76" y1="491" x2="84.5" y2="491" stroke="#333" stroke-width="1"/>
<text x="80.2" y="506.8" font-size="8.2" text-anchor="middle" fill="#2b2b2b" font-weight="normal" stroke="#2b2b2b" stroke-width="0.12">A</text>
<text x="80.2" y="517.3" font-size="8.5" text-anchor="middle" fill="#2b2b2b" font-weight="normal" stroke="#2b2b2b" stroke-width="0.12" textLength="23" lengthAdjust="spacingAndGlyphs">*02:01</text>
<text x="106.6" y="506.8" font-size="8.2" text-anchor="middle" fill="#2b2b2b" font-weight="normal" stroke="#2b2b2b" stroke-width="0.12">B</text>
<text x="106.6" y="517.3" font-size="8.5" text-anchor="middle" fill="#2b2b2b" font-weight="normal" stroke="#2b2b2b" stroke-width="0.12" textLength="23" lengthAdjust="spacingAndGlyphs">*07:02</text>
<text x="132.9" y="506.8" font-size="8.2" text-anchor="middle" fill="#2b2b2b" font-weight="normal" stroke="#2b2b2b" stroke-width="0.12">B</text>
<text x="132.9" y="517.3" font-size="8.5" text-anchor="middle" fill="#2b2b2b" font-weight="normal" stroke="#2b2b2b" stroke-width="0.12" textLength="23" lengthAdjust="spacingAndGlyphs">*15:01</text>
<text x="159.2" y="506.8" font-size="8.2" text-anchor="middle" fill="#2b2b2b" font-weight="normal" stroke="#2b2b2b" stroke-width="0.12">C</text>
<text x="159.2" y="517.3" font-size="8.5" text-anchor="middle" fill="#2b2b2b" font-weight="normal" stroke="#2b2b2b" stroke-width="0.12" textLength="23" lengthAdjust="spacingAndGlyphs">*01:02</text>
<text x="185.5" y="506.8" font-size="8.2" text-anchor="middle" fill="#2b2b2b" font-weight="normal" stroke="#2b2b2b" stroke-width="0.12">C</text>
<text x="185.5" y="517.3" font-size="8.5" text-anchor="middle" fill="#2b2b2b" font-weight="normal" stroke="#2b2b2b" stroke-width="0.12" textLength="23" lengthAdjust="spacingAndGlyphs">*07:01</text>
<text x="64.3" y="532.4" font-size="10.8" text-anchor="start" fill="#2b2b2b" font-weight="normal" stroke="#2b2b2b" stroke-width="0.12" textLength="138.5" lengthAdjust="spacingAndGlyphs">Class I HLA-mismatched allo-OKT3b</text>
<text transform="translate(40.8,451.9) rotate(-90)" x="0" y="0" font-size="10.5" text-anchor="middle" fill="#2b2b2b" stroke="#2b2b2b" stroke-width="0.12" textLength="63.7" lengthAdjust="spacingAndGlyphs">Specific lysis (%)</text>
<line x1="313" y1="417" x2="313" y2="492.6" stroke="#1a1a1a" stroke-width="1.4"/>
<line x1="309.4" y1="425" x2="313" y2="425" stroke="#1a1a1a" stroke-width="1.1"/>
<text x="305" y="428.1" font-size="8.8" text-anchor="end" fill="#2b2b2b" font-weight="normal" stroke="#2b2b2b" stroke-width="0.12" textLength="8.7" lengthAdjust="spacingAndGlyphs">80</text>
<line x1="309.4" y1="441.75" x2="313" y2="441.75" stroke="#1a1a1a" stroke-width="1.1"/>
<text x="305" y="444.85" font-size="8.8" text-anchor="end" fill="#2b2b2b" font-weight="normal" stroke="#2b2b2b" stroke-width="0.12" textLength="8.7" lengthAdjust="spacingAndGlyphs">60</text>
<line x1="309.4" y1="458.5" x2="313" y2="458.5" stroke="#1a1a1a" stroke-width="1.1"/>
<text x="305" y="461.6" font-size="8.8" text-anchor="end" fill="#2b2b2b" font-weight="normal" stroke="#2b2b2b" stroke-width="0.12" textLength="8.7" lengthAdjust="spacingAndGlyphs">40</text>
<line x1="309.4" y1="475.25" x2="313" y2="475.25" stroke="#1a1a1a" stroke-width="1.1"/>
<text x="305" y="478.35" font-size="8.8" text-anchor="end" fill="#2b2b2b" font-weight="normal" stroke="#2b2b2b" stroke-width="0.12" textLength="8.7" lengthAdjust="spacingAndGlyphs">20</text>
<line x1="309.4" y1="492" x2="313" y2="492" stroke="#1a1a1a" stroke-width="1.1"/>
<text x="305" y="495.1" font-size="8.8" text-anchor="end" fill="#2b2b2b" font-weight="normal" stroke="#2b2b2b" stroke-width="0.12" textLength="4.2" lengthAdjust="spacingAndGlyphs">0</text>
<rect x="322.05" y="483.98" width="15.6" height="8.03" fill="#29a8e0" stroke="#2487bd" stroke-width="0.7"/>
<line x1="329.85" y1="481.78" x2="329.85" y2="483.62" stroke="#222" stroke-width="0.9"/>
<line x1="326.1" y1="481.78" x2="333.6" y2="481.78" stroke="#222" stroke-width="0.9"/>
<rect x="350.55" y="489.34" width="15.9" height="2.66" fill="#29a8e0" stroke="#2487bd" stroke-width="0.7"/>
<line x1="358.5" y1="488.4" x2="358.5" y2="488.99" stroke="#222" stroke-width="0.9"/>
<line x1="354.75" y1="488.4" x2="362.25" y2="488.4" stroke="#222" stroke-width="0.9"/>
<rect x="379.55" y="427.28" width="15.6" height="64.72" fill="#29a8e0" stroke="#2487bd" stroke-width="0.7"/>
<line x1="387.35" y1="424.16" x2="387.35" y2="426.93" stroke="#222" stroke-width="0.9"/>
<line x1="383.6" y1="424.16" x2="391.1" y2="424.16" stroke="#222" stroke-width="0.9"/>
<rect x="408.35" y="481.88" width="15.6" height="10.12" fill="#29a8e0" stroke="#2487bd" stroke-width="0.7"/>
<line x1="416.15" y1="480.69" x2="416.15" y2="481.53" stroke="#222" stroke-width="0.9"/>
<line x1="412.4" y1="480.69" x2="419.9" y2="480.69" stroke="#222" stroke-width="0.9"/>
<rect x="437.15" y="489.5" width="15.5" height="2.5" fill="#29a8e0" stroke="#2487bd" stroke-width="0.7"/>
<line x1="444.9" y1="487.14" x2="444.9" y2="489.15" stroke="#222" stroke-width="0.9"/>
<line x1="441.15" y1="487.14" x2="448.65" y2="487.14" stroke="#222" stroke-width="0.9"/>
<rect x="465.85" y="485.23" width="15.6" height="6.77" fill="#29a8e0" stroke="#2487bd" stroke-width="0.7"/>
<line x1="473.65" y1="483.29" x2="473.65" y2="484.88" stroke="#222" stroke-width="0.9"/>
<line x1="469.9" y1="483.29" x2="477.4" y2="483.29" stroke="#222" stroke-width="0.9"/>
<text x="329.8" y="506.8" font-size="8.2" text-anchor="middle" fill="#2b2b2b" font-weight="normal" stroke="#2b2b2b" stroke-width="0.12">A</text>
<text x="329.8" y="517.3" font-size="8.5" text-anchor="middle" fill="#2b2b2b" font-weight="normal" stroke="#2b2b2b" stroke-width="0.12" textLength="23.5" lengthAdjust="spacingAndGlyphs">*24:02</text>
<text x="358.5" y="506.8" font-size="8.2" text-anchor="middle" fill="#2b2b2b" font-weight="normal" stroke="#2b2b2b" stroke-width="0.12">A</text>
<text x="358.5" y="517.3" font-size="8.5" text-anchor="middle" fill="#2b2b2b" font-weight="normal" stroke="#2b2b2b" stroke-width="0.12" textLength="23.5" lengthAdjust="spacingAndGlyphs">*68:03</text>
<text x="387.2" y="506.8" font-size="8.2" text-anchor="middle" fill="#2b2b2b" font-weight="normal" stroke="#2b2b2b" stroke-width="0.12">B</text>
<text x="387.2" y="517.3" font-size="8.5" text-anchor="middle" fill="#2b2b2b" font-weight="normal" stroke="#2b2b2b" stroke-width="0.12" textLength="23.5" lengthAdjust="spacingAndGlyphs">*35:43</text>
<text x="415.9" y="506.8" font-size="8.2" text-anchor="middle" fill="#2b2b2b" font-weight="normal" stroke="#2b2b2b" stroke-width="0.12">B</text>
<text x="415.9" y="517.3" font-size="8.5" text-anchor="middle" fill="#2b2b2b" font-weight="normal" stroke="#2b2b2b" stroke-width="0.12" textLength="23.5" lengthAdjust="spacingAndGlyphs">*40:11</text>
<text x="444.6" y="506.8" font-size="8.2" text-anchor="middle" fill="#2b2b2b" font-weight="normal" stroke="#2b2b2b" stroke-width="0.12">C</text>
<text x="444.6" y="517.3" font-size="8.5" text-anchor="middle" fill="#2b2b2b" font-weight="normal" stroke="#2b2b2b" stroke-width="0.12" textLength="23.5" lengthAdjust="spacingAndGlyphs">*07:02</text>
<text x="473.3" y="506.8" font-size="8.2" text-anchor="middle" fill="#2b2b2b" font-weight="normal" stroke="#2b2b2b" stroke-width="0.12">C</text>
<text x="473.3" y="517.3" font-size="8.5" text-anchor="middle" fill="#2b2b2b" font-weight="normal" stroke="#2b2b2b" stroke-width="0.12" textLength="23.5" lengthAdjust="spacingAndGlyphs">*03:05</text>
<text x="332.3" y="532.8" font-size="10.8" text-anchor="start" fill="#2b2b2b" font-weight="normal" stroke="#2b2b2b" stroke-width="0.12" textLength="138.3" lengthAdjust="spacingAndGlyphs">Class I HLA-mismatched allo-OKT3b</text>
<text transform="translate(288.5,454.4) rotate(-90)" x="0" y="0" font-size="10.5" text-anchor="middle" fill="#2b2b2b" stroke="#2b2b2b" stroke-width="0.12" textLength="63.7" lengthAdjust="spacingAndGlyphs">Specific lysis (%)</text>
<line x1="65.75" y1="558.8" x2="65.75" y2="636.6" stroke="#1a1a1a" stroke-width="1.4"/>
<line x1="62.15" y1="569.5" x2="65.75" y2="569.5" stroke="#1a1a1a" stroke-width="1.1"/>
<text x="57.75" y="572.6" font-size="8.8" text-anchor="end" fill="#2b2b2b" font-weight="normal" stroke="#2b2b2b" stroke-width="0.12" textLength="8.7" lengthAdjust="spacingAndGlyphs">60</text>
<line x1="62.15" y1="591.6" x2="65.75" y2="591.6" stroke="#1a1a1a" stroke-width="1.1"/>
<text x="57.75" y="594.7" font-size="8.8" text-anchor="end" fill="#2b2b2b" font-weight="normal" stroke="#2b2b2b" stroke-width="0.12" textLength="8.7" lengthAdjust="spacingAndGlyphs">40</text>
<line x1="62.15" y1="613.7" x2="65.75" y2="613.7" stroke="#1a1a1a" stroke-width="1.1"/>
<text x="57.75" y="616.8" font-size="8.8" text-anchor="end" fill="#2b2b2b" font-weight="normal" stroke="#2b2b2b" stroke-width="0.12" textLength="8.7" lengthAdjust="spacingAndGlyphs">20</text>
<line x1="62.15" y1="635.8" x2="65.75" y2="635.8" stroke="#1a1a1a" stroke-width="1.1"/>
<text x="57.75" y="638.9" font-size="8.8" text-anchor="end" fill="#2b2b2b" font-weight="normal" stroke="#2b2b2b" stroke-width="0.12" textLength="4.2" lengthAdjust="spacingAndGlyphs">0</text>
<rect x="74.55" y="568.75" width="16.2" height="67.25" fill="#29a8e0" stroke="#2487bd" stroke-width="0.7"/>
<rect x="91.7" y="611.8" width="14.9" height="24.2" fill="#fff" stroke="#3aaee4" stroke-width="1"/>
<rect x="116.35" y="568.75" width="16.4" height="67.25" fill="#29a8e0" stroke="#2487bd" stroke-width="0.7"/>
<rect x="134.1" y="618.8" width="14.8" height="17.2" fill="#fff" stroke="#3aaee4" stroke-width="1"/>
<line x1="82.6" y1="566.5" x2="82.6" y2="570.2" stroke="#222" stroke-width="0.9"/>
<line x1="78.6" y1="566.5" x2="86.6" y2="566.5" stroke="#222" stroke-width="0.9"/>
<line x1="78.6" y1="570.2" x2="86.6" y2="570.2" stroke="#222" stroke-width="0.9"/>
<line x1="99.4" y1="606.7" x2="99.4" y2="615.2" stroke="#222" stroke-width="0.9"/>
<line x1="95.9" y1="606.7" x2="102.9" y2="606.7" stroke="#222" stroke-width="0.9"/>
<line x1="95.9" y1="615.2" x2="102.9" y2="615.2" stroke="#222" stroke-width="0.9"/>
<line x1="124.6" y1="559.5" x2="124.6" y2="577.5" stroke="#222" stroke-width="0.9"/>
<line x1="120.6" y1="559.5" x2="128.6" y2="559.5" stroke="#222" stroke-width="0.9"/>
<line x1="120.6" y1="577.5" x2="128.6" y2="577.5" stroke="#222" stroke-width="0.9"/>
<line x1="141.7" y1="609.7" x2="141.7" y2="626.6" stroke="#222" stroke-width="0.9"/>
<line x1="138.2" y1="609.7" x2="145.2" y2="609.7" stroke="#222" stroke-width="0.9"/>
<line x1="138.2" y1="626.6" x2="145.2" y2="626.6" stroke="#222" stroke-width="0.9"/>
<text x="80.1" y="651.1" font-size="8.5" text-anchor="start" fill="#2b2b2b" font-weight="normal" stroke="#2b2b2b" stroke-width="0.12" textLength="21.3" lengthAdjust="spacingAndGlyphs">Kg1A</text>
<text x="114" y="651.1" font-size="8.5" text-anchor="start" fill="#2b2b2b" font-weight="normal" stroke="#2b2b2b" stroke-width="0.12" textLength="38" lengthAdjust="spacingAndGlyphs">MOLM-13</text>
<text x="79" y="667.4" font-size="10.8" text-anchor="start" fill="#2b2b2b" font-weight="normal" stroke="#2b2b2b" stroke-width="0.12" textLength="65.6" lengthAdjust="spacingAndGlyphs">B*15:01 + IDH2</text>
<text transform="translate(40.8,596.9) rotate(-90)" x="0" y="0" font-size="10.5" text-anchor="middle" fill="#2b2b2b" stroke="#2b2b2b" stroke-width="0.12" textLength="63.7" lengthAdjust="spacingAndGlyphs">Specific lysis (%)</text>
<line x1="184" y1="559.4" x2="184" y2="637" stroke="#1a1a1a" stroke-width="1.4"/>
<line x1="180.4" y1="567.6" x2="184" y2="567.6" stroke="#1a1a1a" stroke-width="1.1"/>
<text x="176" y="570.7" font-size="8.8" text-anchor="end" fill="#2b2b2b" font-weight="normal" stroke="#2b2b2b" stroke-width="0.12" textLength="8.7" lengthAdjust="spacingAndGlyphs">25</text>
<line x1="180.4" y1="590.5" x2="184" y2="590.5" stroke="#1a1a1a" stroke-width="1.1"/>
<text x="176" y="593.6" font-size="8.8" text-anchor="end" fill="#2b2b2b" font-weight="normal" stroke="#2b2b2b" stroke-width="0.12" textLength="8.7" lengthAdjust="spacingAndGlyphs">20</text>
<line x1="180.4" y1="613.4" x2="184" y2="613.4" stroke="#1a1a1a" stroke-width="1.1"/>
<text x="176" y="616.5" font-size="8.8" text-anchor="end" fill="#2b2b2b" font-weight="normal" stroke="#2b2b2b" stroke-width="0.12" textLength="8.7" lengthAdjust="spacingAndGlyphs">15</text>
<line x1="180.4" y1="636.4" x2="184" y2="636.4" stroke="#1a1a1a" stroke-width="1.1"/>
<text x="176" y="639.5" font-size="8.8" text-anchor="end" fill="#2b2b2b" font-weight="normal" stroke="#2b2b2b" stroke-width="0.12" textLength="8.7" lengthAdjust="spacingAndGlyphs">10</text>
<rect x="193.05" y="564.35" width="17" height="72.05" fill="#29a8e0" stroke="#2487bd" stroke-width="0.7"/>
<rect x="211.1" y="617.4" width="16" height="19" fill="#fff" stroke="#3aaee4" stroke-width="1"/>
<line x1="201.5" y1="559.8" x2="201.5" y2="567.6" stroke="#222" stroke-width="0.9"/>
<line x1="197.5" y1="559.8" x2="205.5" y2="559.8" stroke="#222" stroke-width="0.9"/>
<line x1="197.5" y1="567.6" x2="205.5" y2="567.6" stroke="#222" stroke-width="0.9"/>
<line x1="219.3" y1="613.8" x2="219.3" y2="619.5" stroke="#222" stroke-width="0.9"/>
<line x1="215.8" y1="613.8" x2="222.8" y2="613.8" stroke="#222" stroke-width="0.9"/>
<line x1="215.8" y1="619.5" x2="222.8" y2="619.5" stroke="#222" stroke-width="0.9"/>
<text x="202.6" y="651" font-size="8.8" text-anchor="start" fill="#2b2b2b" font-weight="normal" stroke="#2b2b2b" stroke-width="0.12" textLength="15.4" lengthAdjust="spacingAndGlyphs">TF-1</text>
<text x="193.5" y="666.6" font-size="10.8" text-anchor="start" fill="#2b2b2b" font-weight="normal" stroke="#2b2b2b" stroke-width="0.12" textLength="32.5" lengthAdjust="spacingAndGlyphs">B*15:01</text>
<rect x="221.5" y="562.4" width="4" height="4" fill="#29a8e0" stroke="none" stroke-width="0"/>
<rect x="222" y="574.7" width="3.2" height="3.2" fill="#fff" stroke="#29a8e0" stroke-width="1"/>
<text x="229.8" y="566.9" font-size="8" text-anchor="start" fill="#2b2b2b" font-weight="normal" stroke="#2b2b2b" stroke-width="0.12" textLength="25.6" lengthAdjust="spacingAndGlyphs">R140Q</text>
<text x="229.8" y="578.6" font-size="8" text-anchor="start" fill="#2b2b2b" font-weight="normal" stroke="#2b2b2b" stroke-width="0.12" textLength="33.8" lengthAdjust="spacingAndGlyphs">Wildtype</text>
<line x1="313" y1="555" x2="313" y2="636.85" stroke="#1a1a1a" stroke-width="1.4"/>
<line x1="309.4" y1="558.8" x2="313" y2="558.8" stroke="#1a1a1a" stroke-width="1.1"/>
<text x="305" y="561.9" font-size="8.8" text-anchor="end" fill="#2b2b2b" font-weight="normal" stroke="#2b2b2b" stroke-width="0.12" textLength="8.7" lengthAdjust="spacingAndGlyphs">40</text>
<line x1="309.4" y1="578.2" x2="313" y2="578.2" stroke="#1a1a1a" stroke-width="1.1"/>
<text x="305" y="581.3" font-size="8.8" text-anchor="end" fill="#2b2b2b" font-weight="normal" stroke="#2b2b2b" stroke-width="0.12" textLength="8.7" lengthAdjust="spacingAndGlyphs">30</text>
<line x1="309.4" y1="597.5" x2="313" y2="597.5" stroke="#1a1a1a" stroke-width="1.1"/>
<text x="305" y="600.6" font-size="8.8" text-anchor="end" fill="#2b2b2b" font-weight="normal" stroke="#2b2b2b" stroke-width="0.12" textLength="8.7" lengthAdjust="spacingAndGlyphs">20</text>
<line x1="309.4" y1="617" x2="313" y2="617" stroke="#1a1a1a" stroke-width="1.1"/>
<text x="305" y="620.1" font-size="8.8" text-anchor="end" fill="#2b2b2b" font-weight="normal" stroke="#2b2b2b" stroke-width="0.12" textLength="8.7" lengthAdjust="spacingAndGlyphs">10</text>
<line x1="309.4" y1="636.25" x2="313" y2="636.25" stroke="#1a1a1a" stroke-width="1.1"/>
<text x="305" y="639.35" font-size="8.8" text-anchor="end" fill="#2b2b2b" font-weight="normal" stroke="#2b2b2b" stroke-width="0.12" textLength="4.2" lengthAdjust="spacingAndGlyphs">0</text>
<rect x="321.6" y="569.6" width="14.3" height="66.65" fill="#29a8e0" stroke="#2487bd" stroke-width="0.7"/>
<rect x="337.1" y="634.8" width="14.4" height="1.45" fill="#fff" stroke="#3aaee4" stroke-width="1"/>
<rect x="367.85" y="581.65" width="14.8" height="54.6" fill="#29a8e0" stroke="#2487bd" stroke-width="0.7"/>
<rect x="383.9" y="619.8" width="14.4" height="16.45" fill="#fff" stroke="#3aaee4" stroke-width="1"/>
<line x1="328.8" y1="564.5" x2="328.8" y2="573.3" stroke="#222" stroke-width="0.9"/>
<line x1="325.3" y1="564.5" x2="332.3" y2="564.5" stroke="#222" stroke-width="0.9"/>
<line x1="325.3" y1="573.3" x2="332.3" y2="573.3" stroke="#222" stroke-width="0.9"/>
<line x1="344.5" y1="625" x2="344.5" y2="634.3" stroke="#222" stroke-width="0.9"/>
<line x1="341" y1="625" x2="348" y2="625" stroke="#222" stroke-width="0.9"/>
<line x1="375.3" y1="578.8" x2="375.3" y2="583.3" stroke="#222" stroke-width="0.9"/>
<line x1="371.8" y1="578.8" x2="378.8" y2="578.8" stroke="#222" stroke-width="0.9"/>
<line x1="371.8" y1="583.3" x2="378.8" y2="583.3" stroke="#222" stroke-width="0.9"/>
<line x1="391.3" y1="616.8" x2="391.3" y2="621.3" stroke="#222" stroke-width="0.9"/>
<line x1="387.8" y1="616.8" x2="394.8" y2="616.8" stroke="#222" stroke-width="0.9"/>
<line x1="387.8" y1="621.3" x2="394.8" y2="621.3" stroke="#222" stroke-width="0.9"/>
<text x="325.5" y="650.6" font-size="8.5" text-anchor="start" fill="#2b2b2b" font-weight="normal" stroke="#2b2b2b" stroke-width="0.12" textLength="21.5" lengthAdjust="spacingAndGlyphs">Kg1A</text>
<text x="362.5" y="650.6" font-size="8.5" text-anchor="start" fill="#2b2b2b" font-weight="normal" stroke="#2b2b2b" stroke-width="0.12" textLength="42" lengthAdjust="spacingAndGlyphs">MOLM-13</text>
<text x="326.3" y="667.5" font-size="10.8" text-anchor="start" fill="#2b2b2b" font-weight="normal" stroke="#2b2b2b" stroke-width="0.12" textLength="66.2" lengthAdjust="spacingAndGlyphs">B*35:43 + IDH2</text>
<text transform="translate(288.5,593.8) rotate(-90)" x="0" y="0" font-size="10.5" text-anchor="middle" fill="#2b2b2b" stroke="#2b2b2b" stroke-width="0.12" textLength="65" lengthAdjust="spacingAndGlyphs">Specific lysis (%)</text>
<line x1="431.75" y1="555.5" x2="431.75" y2="636.85" stroke="#1a1a1a" stroke-width="1.4"/>
<line x1="428.15" y1="574.25" x2="431.75" y2="574.25" stroke="#1a1a1a" stroke-width="1.1"/>
<text x="423.75" y="577.35" font-size="8.8" text-anchor="end" fill="#2b2b2b" font-weight="normal" stroke="#2b2b2b" stroke-width="0.12" textLength="8.7" lengthAdjust="spacingAndGlyphs">30</text>
<line x1="428.15" y1="605.1" x2="431.75" y2="605.1" stroke="#1a1a1a" stroke-width="1.1"/>
<text x="423.75" y="608.2" font-size="8.8" text-anchor="end" fill="#2b2b2b" font-weight="normal" stroke="#2b2b2b" stroke-width="0.12" textLength="8.7" lengthAdjust="spacingAndGlyphs">20</text>
<line x1="428.15" y1="636.25" x2="431.75" y2="636.25" stroke="#1a1a1a" stroke-width="1.1"/>
<text x="423.75" y="639.35" font-size="8.8" text-anchor="end" fill="#2b2b2b" font-weight="normal" stroke="#2b2b2b" stroke-width="0.12" textLength="8.7" lengthAdjust="spacingAndGlyphs">10</text>
<rect x="441.6" y="569.1" width="16.3" height="67.15" fill="#29a8e0" stroke="#2487bd" stroke-width="0.7"/>
<rect x="459.6" y="623.75" width="15.4" height="12.5" fill="#fff" stroke="#3aaee4" stroke-width="1"/>
<line x1="449.75" y1="562" x2="449.75" y2="575" stroke="#222" stroke-width="0.9"/>
<line x1="445.75" y1="562" x2="453.75" y2="562" stroke="#222" stroke-width="0.9"/>
<line x1="445.75" y1="575" x2="453.75" y2="575" stroke="#222" stroke-width="0.9"/>
<line x1="467.5" y1="620.5" x2="467.5" y2="625.5" stroke="#222" stroke-width="0.9"/>
<line x1="464" y1="620.5" x2="471" y2="620.5" stroke="#222" stroke-width="0.9"/>
<line x1="464" y1="625.5" x2="471" y2="625.5" stroke="#222" stroke-width="0.9"/>
<text x="450.3" y="651" font-size="8.8" text-anchor="start" fill="#2b2b2b" font-weight="normal" stroke="#2b2b2b" stroke-width="0.12" textLength="15.1" lengthAdjust="spacingAndGlyphs">TF-1</text>
<text x="441.8" y="666.7" font-size="10.8" text-anchor="start" fill="#2b2b2b" font-weight="normal" stroke="#2b2b2b" stroke-width="0.12" textLength="33.5" lengthAdjust="spacingAndGlyphs">B*35:43</text>
<rect x="469.5" y="562.5" width="3.8" height="3.8" fill="#29a8e0" stroke="none" stroke-width="0"/>
<rect x="470" y="575" width="3" height="3" fill="#fff" stroke="#29a8e0" stroke-width="1"/>
<text x="477" y="566.8" font-size="8" text-anchor="start" fill="#2b2b2b" font-weight="normal" stroke="#2b2b2b" stroke-width="0.12" textLength="25.6" lengthAdjust="spacingAndGlyphs">R140Q</text>
<text x="477" y="578.8" font-size="8" text-anchor="start" fill="#2b2b2b" font-weight="normal" stroke="#2b2b2b" stroke-width="0.12" textLength="34" lengthAdjust="spacingAndGlyphs">Wildtype</text>
<text x="76.1" y="693.8" font-size="10.6" text-anchor="start" fill="#222" font-weight="normal" stroke="#222" stroke-width="0.12" textLength="49.2" lengthAdjust="spacingAndGlyphs">Patient #1</text>
<line x1="65.7" y1="700.7" x2="65.7" y2="781.9" stroke="#1a1a1a" stroke-width="1.4"/>
<line x1="61.7" y1="717.2" x2="65.7" y2="717.2" stroke="#1a1a1a" stroke-width="1.1"/>
<text x="57.7" y="720.3" font-size="8.8" text-anchor="end" fill="#2b2b2b" font-weight="normal" stroke="#2b2b2b" stroke-width="0.12" textLength="8.7" lengthAdjust="spacingAndGlyphs">30</text>
<line x1="61.7" y1="743.1" x2="65.7" y2="743.1" stroke="#1a1a1a" stroke-width="1.1"/>
<text x="57.7" y="746.2" font-size="8.8" text-anchor="end" fill="#2b2b2b" font-weight="normal" stroke="#2b2b2b" stroke-width="0.12" textLength="8.7" lengthAdjust="spacingAndGlyphs">20</text>
<line x1="61.7" y1="768.7" x2="65.7" y2="768.7" stroke="#1a1a1a" stroke-width="1.1"/>
<text x="57.7" y="771.8" font-size="8.8" text-anchor="end" fill="#2b2b2b" font-weight="normal" stroke="#2b2b2b" stroke-width="0.12" textLength="8.7" lengthAdjust="spacingAndGlyphs">10</text>
<line x1="63.5" y1="704.2" x2="65.7" y2="704.2" stroke="#1a1a1a" stroke-width="1"/>
<line x1="63.5" y1="730.1" x2="65.7" y2="730.1" stroke="#1a1a1a" stroke-width="1"/>
<line x1="63.5" y1="755.7" x2="65.7" y2="755.7" stroke="#1a1a1a" stroke-width="1"/>
<rect x="73.55" y="712.35" width="18" height="68.95" fill="#29a8e0" stroke="#2487bd" stroke-width="0.7"/>
<rect x="110" y="775.6" width="19" height="5.7" fill="#c9c9c9" stroke="none" stroke-width="0"/>
<line x1="82.6" y1="707.6" x2="82.6" y2="712" stroke="#222" stroke-width="0.9"/>
<line x1="78.6" y1="707.6" x2="86.6" y2="707.6" stroke="#222" stroke-width="0.9"/>
<line x1="119.5" y1="774.3" x2="119.5" y2="775.6" stroke="#555" stroke-width="0.9"/>
<line x1="115.5" y1="774.3" x2="123.5" y2="774.3" stroke="#555" stroke-width="0.9"/>
<text x="74.4" y="797" font-size="8.2" text-anchor="start" fill="#2b2b2b" font-weight="normal" stroke="#2b2b2b" stroke-width="0.12" textLength="16.6" lengthAdjust="spacingAndGlyphs">AML</text>
<text x="65.4" y="807.1" font-size="8.2" text-anchor="start" fill="#2b2b2b" font-weight="normal" stroke="#2b2b2b" stroke-width="0.12" textLength="35" lengthAdjust="spacingAndGlyphs">+B*15:01</text>
<text x="111.2" y="797" font-size="8.2" text-anchor="start" fill="#2b2b2b" font-weight="normal" stroke="#2b2b2b" stroke-width="0.12" textLength="16.6" lengthAdjust="spacingAndGlyphs">AML</text>
<text x="103.8" y="807.1" font-size="8.2" text-anchor="start" fill="#2b2b2b" font-weight="normal" stroke="#2b2b2b" stroke-width="0.12" textLength="31.2" lengthAdjust="spacingAndGlyphs">+irr HLA</text>
<text transform="translate(41,741) rotate(-90)" x="0" y="0" font-size="10" text-anchor="middle" fill="#2b2b2b" stroke="#2b2b2b" stroke-width="0.12" textLength="58.5" lengthAdjust="spacingAndGlyphs">% Specific lysis</text>
<text x="190.3" y="693.9" font-size="10.6" text-anchor="start" fill="#222" font-weight="normal" stroke="#222" stroke-width="0.12" textLength="51.3" lengthAdjust="spacingAndGlyphs">Patient #2</text>
<line x1="179.2" y1="701.2" x2="179.2" y2="782.1" stroke="#1a1a1a" stroke-width="1.4"/>
<line x1="175.2" y1="719.7" x2="179.2" y2="719.7" stroke="#1a1a1a" stroke-width="1.1"/>
<text x="171.2" y="722.8" font-size="8.8" text-anchor="end" fill="#2b2b2b" font-weight="normal" stroke="#2b2b2b" stroke-width="0.12" textLength="8.7" lengthAdjust="spacingAndGlyphs">30</text>
<line x1="175.2" y1="750.9" x2="179.2" y2="750.9" stroke="#1a1a1a" stroke-width="1.1"/>
<text x="171.2" y="754" font-size="8.8" text-anchor="end" fill="#2b2b2b" font-weight="normal" stroke="#2b2b2b" stroke-width="0.12" textLength="8.7" lengthAdjust="spacingAndGlyphs">20</text>
<line x1="175.2" y1="781.5" x2="179.2" y2="781.5" stroke="#1a1a1a" stroke-width="1.1"/>
<text x="171.2" y="784.6" font-size="8.8" text-anchor="end" fill="#2b2b2b" font-weight="normal" stroke="#2b2b2b" stroke-width="0.12" textLength="8.7" lengthAdjust="spacingAndGlyphs">10</text>
<line x1="177" y1="704.1" x2="179.2" y2="704.1" stroke="#1a1a1a" stroke-width="1"/>
<line x1="177" y1="735.3" x2="179.2" y2="735.3" stroke="#1a1a1a" stroke-width="1"/>
<line x1="177" y1="766.2" x2="179.2" y2="766.2" stroke="#1a1a1a" stroke-width="1"/>
<rect x="187.65" y="711.05" width="18.9" height="70.45" fill="#29a8e0" stroke="#2487bd" stroke-width="0.7"/>
<rect x="223.5" y="770.5" width="19.7" height="11" fill="#c9c9c9" stroke="none" stroke-width="0"/>
<line x1="197.1" y1="709.3" x2="197.1" y2="710.7" stroke="#222" stroke-width="0.9"/>
<line x1="193.1" y1="709.3" x2="201.1" y2="709.3" stroke="#222" stroke-width="0.9"/>
<line x1="233.4" y1="760.3" x2="233.4" y2="770.5" stroke="#555" stroke-width="0.9"/>
<line x1="229.4" y1="760.3" x2="237.4" y2="760.3" stroke="#555" stroke-width="0.9"/>
<text x="188.6" y="797" font-size="8.2" text-anchor="start" fill="#2b2b2b" font-weight="normal" stroke="#2b2b2b" stroke-width="0.12" textLength="16.6" lengthAdjust="spacingAndGlyphs">AML</text>
<text x="179.6" y="807.1" font-size="8.2" text-anchor="start" fill="#2b2b2b" font-weight="normal" stroke="#2b2b2b" stroke-width="0.12" textLength="34.6" lengthAdjust="spacingAndGlyphs">+B*15:01</text>
<text x="225.5" y="797" font-size="8.2" text-anchor="start" fill="#2b2b2b" font-weight="normal" stroke="#2b2b2b" stroke-width="0.12" textLength="16.6" lengthAdjust="spacingAndGlyphs">AML</text>
<text x="218" y="807.1" font-size="8.2" text-anchor="start" fill="#2b2b2b" font-weight="normal" stroke="#2b2b2b" stroke-width="0.12" textLength="30.8" lengthAdjust="spacingAndGlyphs">+irr HLA</text>
<text transform="translate(155.2,741.1) rotate(-90)" x="0" y="0" font-size="10" text-anchor="middle" fill="#2b2b2b" stroke="#2b2b2b" stroke-width="0.12" textLength="58" lengthAdjust="spacingAndGlyphs">% Specific lysis</text>
<text x="324.5" y="693.8" font-size="10.6" text-anchor="start" fill="#222" font-weight="normal" stroke="#222" stroke-width="0.12" textLength="50.7" lengthAdjust="spacingAndGlyphs">Patient #1</text>
<line x1="313" y1="704.5" x2="313" y2="781.85" stroke="#1a1a1a" stroke-width="1.4"/>
<line x1="309.4" y1="712.5" x2="313" y2="712.5" stroke="#1a1a1a" stroke-width="1.1"/>
<text x="305" y="715.6" font-size="8.8" text-anchor="end" fill="#2b2b2b" font-weight="normal" stroke="#2b2b2b" stroke-width="0.12" textLength="8.7" lengthAdjust="spacingAndGlyphs">50</text>
<line x1="309.4" y1="727.8" x2="313" y2="727.8" stroke="#1a1a1a" stroke-width="1.1"/>
<text x="305" y="730.9" font-size="8.8" text-anchor="end" fill="#2b2b2b" font-weight="normal" stroke="#2b2b2b" stroke-width="0.12" textLength="8.7" lengthAdjust="spacingAndGlyphs">40</text>
<line x1="309.4" y1="743.1" x2="313" y2="743.1" stroke="#1a1a1a" stroke-width="1.1"/>
<text x="305" y="746.2" font-size="8.8" text-anchor="end" fill="#2b2b2b" font-weight="normal" stroke="#2b2b2b" stroke-width="0.12" textLength="8.7" lengthAdjust="spacingAndGlyphs">30</text>
<line x1="309.4" y1="758.4" x2="313" y2="758.4" stroke="#1a1a1a" stroke-width="1.1"/>
<text x="305" y="761.5" font-size="8.8" text-anchor="end" fill="#2b2b2b" font-weight="normal" stroke="#2b2b2b" stroke-width="0.12" textLength="8.7" lengthAdjust="spacingAndGlyphs">20</text>
<line x1="309.4" y1="773.7" x2="313" y2="773.7" stroke="#1a1a1a" stroke-width="1.1"/>
<text x="305" y="776.8" font-size="8.8" text-anchor="end" fill="#2b2b2b" font-weight="normal" stroke="#2b2b2b" stroke-width="0.12" textLength="8.7" lengthAdjust="spacingAndGlyphs">10</text>
<rect x="321.6" y="719.1" width="18.05" height="62.15" fill="#29a8e0" stroke="#2487bd" stroke-width="0.7"/>
<rect x="359.5" y="778.7" width="18.5" height="2.55" fill="#d6d6d6" stroke="none" stroke-width="0"/>
<line x1="330.6" y1="710.5" x2="330.6" y2="718.75" stroke="#222" stroke-width="0.9"/>
<line x1="326.6" y1="710.5" x2="334.6" y2="710.5" stroke="#222" stroke-width="0.9"/>
<line x1="368.7" y1="775.5" x2="368.7" y2="778.7" stroke="#555" stroke-width="0.9"/>
<line x1="364.7" y1="775.5" x2="372.7" y2="775.5" stroke="#555" stroke-width="0.9"/>
<text x="322.1" y="797" font-size="8.2" text-anchor="start" fill="#2b2b2b" font-weight="normal" stroke="#2b2b2b" stroke-width="0.12" textLength="16.6" lengthAdjust="spacingAndGlyphs">AML</text>
<text x="313" y="807.1" font-size="8.2" text-anchor="start" fill="#2b2b2b" font-weight="normal" stroke="#2b2b2b" stroke-width="0.12" textLength="35.2" lengthAdjust="spacingAndGlyphs">+B*35:43</text>
<text x="360.6" y="797" font-size="8.2" text-anchor="start" fill="#2b2b2b" font-weight="normal" stroke="#2b2b2b" stroke-width="0.12" textLength="16.6" lengthAdjust="spacingAndGlyphs">AML</text>
<text x="352.5" y="807.1" font-size="8.2" text-anchor="start" fill="#2b2b2b" font-weight="normal" stroke="#2b2b2b" stroke-width="0.12" textLength="34.5" lengthAdjust="spacingAndGlyphs">+irr HLA</text>
<text transform="translate(289.4,748.1) rotate(-90)" x="0" y="0" font-size="10" text-anchor="middle" fill="#2b2b2b" stroke="#2b2b2b" stroke-width="0.12" textLength="58.8" lengthAdjust="spacingAndGlyphs">% Specific lysis</text>
<text x="438.8" y="694.2" font-size="10.6" text-anchor="start" fill="#222" font-weight="normal" stroke="#222" stroke-width="0.12" textLength="51.4" lengthAdjust="spacingAndGlyphs">Patient #2</text>
<line x1="427.5" y1="701.25" x2="427.5" y2="781.85" stroke="#1a1a1a" stroke-width="1.4"/>
<line x1="423.9" y1="704.3" x2="427.5" y2="704.3" stroke="#1a1a1a" stroke-width="1.1"/>
<text x="419.5" y="707.4" font-size="8.8" text-anchor="end" fill="#2b2b2b" font-weight="normal" stroke="#2b2b2b" stroke-width="0.12" textLength="8.7" lengthAdjust="spacingAndGlyphs">25</text>
<line x1="423.9" y1="719.8" x2="427.5" y2="719.8" stroke="#1a1a1a" stroke-width="1.1"/>
<text x="419.5" y="722.9" font-size="8.8" text-anchor="end" fill="#2b2b2b" font-weight="normal" stroke="#2b2b2b" stroke-width="0.12" textLength="8.7" lengthAdjust="spacingAndGlyphs">20</text>
<line x1="423.9" y1="735.3" x2="427.5" y2="735.3" stroke="#1a1a1a" stroke-width="1.1"/>
<text x="419.5" y="738.4" font-size="8.8" text-anchor="end" fill="#2b2b2b" font-weight="normal" stroke="#2b2b2b" stroke-width="0.12" textLength="8.7" lengthAdjust="spacingAndGlyphs">15</text>
<line x1="423.9" y1="750.8" x2="427.5" y2="750.8" stroke="#1a1a1a" stroke-width="1.1"/>
<text x="419.5" y="753.9" font-size="8.8" text-anchor="end" fill="#2b2b2b" font-weight="normal" stroke="#2b2b2b" stroke-width="0.12" textLength="8.7" lengthAdjust="spacingAndGlyphs">10</text>
<line x1="423.9" y1="766.3" x2="427.5" y2="766.3" stroke="#1a1a1a" stroke-width="1.1"/>
<text x="419.5" y="769.4" font-size="8.8" text-anchor="end" fill="#2b2b2b" font-weight="normal" stroke="#2b2b2b" stroke-width="0.12" textLength="4.2" lengthAdjust="spacingAndGlyphs">5</text>
<line x1="423.9" y1="781.25" x2="427.5" y2="781.25" stroke="#1a1a1a" stroke-width="1.1"/>
<text x="419.5" y="784.35" font-size="8.8" text-anchor="end" fill="#2b2b2b" font-weight="normal" stroke="#2b2b2b" stroke-width="0.12" textLength="4.2" lengthAdjust="spacingAndGlyphs">0</text>
<rect x="435.85" y="715.35" width="18.3" height="65.9" fill="#29a8e0" stroke="#2487bd" stroke-width="0.7"/>
<rect x="473.75" y="771.75" width="19.25" height="9.5" fill="#c9c9c9" stroke="none" stroke-width="0"/>
<line x1="445" y1="706.3" x2="445" y2="715" stroke="#222" stroke-width="0.9"/>
<line x1="441" y1="706.3" x2="449" y2="706.3" stroke="#222" stroke-width="0.9"/>
<line x1="483.4" y1="761.3" x2="483.4" y2="771.75" stroke="#555" stroke-width="0.9"/>
<line x1="479.4" y1="761.3" x2="487.4" y2="761.3" stroke="#555" stroke-width="0.9"/>
<text x="436.4" y="797" font-size="8.2" text-anchor="start" fill="#2b2b2b" font-weight="normal" stroke="#2b2b2b" stroke-width="0.12" textLength="16.6" lengthAdjust="spacingAndGlyphs">AML</text>
<text x="428" y="807.1" font-size="8.2" text-anchor="start" fill="#2b2b2b" font-weight="normal" stroke="#2b2b2b" stroke-width="0.12" textLength="34.6" lengthAdjust="spacingAndGlyphs">+B*35:43</text>
<text x="475" y="797" font-size="8.2" text-anchor="start" fill="#2b2b2b" font-weight="normal" stroke="#2b2b2b" stroke-width="0.12" textLength="16.6" lengthAdjust="spacingAndGlyphs">AML</text>
<text x="473" y="807.1" font-size="8.2" text-anchor="start" fill="#2b2b2b" font-weight="normal" stroke="#2b2b2b" stroke-width="0.12" textLength="27.2" lengthAdjust="spacingAndGlyphs">+irr HLA</text>
<text transform="translate(403.4,741.3) rotate(-90)" x="0" y="0" font-size="10" text-anchor="middle" fill="#2b2b2b" stroke="#2b2b2b" stroke-width="0.12" textLength="60" lengthAdjust="spacingAndGlyphs">% Specific lysis</text>
<line x1="65" y1="242.3" x2="190" y2="242.3" stroke="#1a1a1a" stroke-width="1.4"/>
<line x1="97.8" y1="242.3" x2="97.8" y2="245.8" stroke="#1a1a1a" stroke-width="1"/>
<line x1="156.4" y1="242.3" x2="156.4" y2="245.8" stroke="#1a1a1a" stroke-width="1"/>
<line x1="312" y1="240.8" x2="437" y2="240.8" stroke="#1a1a1a" stroke-width="1.4"/>
<line x1="345.7" y1="240.8" x2="345.7" y2="244.3" stroke="#1a1a1a" stroke-width="1"/>
<line x1="404.3" y1="240.8" x2="404.3" y2="244.3" stroke="#1a1a1a" stroke-width="1"/>
<line x1="65" y1="354.6" x2="172.4" y2="354.6" stroke="#1a1a1a" stroke-width="1.4"/>
<line x1="75.7" y1="354.6" x2="75.7" y2="358.1" stroke="#1a1a1a" stroke-width="1"/>
<line x1="97.3" y1="354.6" x2="97.3" y2="358.1" stroke="#1a1a1a" stroke-width="1"/>
<line x1="118.8" y1="354.6" x2="118.8" y2="358.1" stroke="#1a1a1a" stroke-width="1"/>
<line x1="140.2" y1="354.6" x2="140.2" y2="358.1" stroke="#1a1a1a" stroke-width="1"/>
<line x1="161.6" y1="354.6" x2="161.6" y2="358.1" stroke="#1a1a1a" stroke-width="1"/>
<line x1="312.5" y1="355" x2="420" y2="355" stroke="#1a1a1a" stroke-width="1.4"/>
<line x1="324.5" y1="355" x2="324.5" y2="358.5" stroke="#1a1a1a" stroke-width="1"/>
<line x1="345.5" y1="355" x2="345.5" y2="358.5" stroke="#1a1a1a" stroke-width="1"/>
<line x1="366.7" y1="355" x2="366.7" y2="358.5" stroke="#1a1a1a" stroke-width="1"/>
<line x1="387.8" y1="355" x2="387.8" y2="358.5" stroke="#1a1a1a" stroke-width="1"/>
<line x1="408.8" y1="355" x2="408.8" y2="358.5" stroke="#1a1a1a" stroke-width="1"/>
<line x1="65" y1="492" x2="200.5" y2="492" stroke="#1a1a1a" stroke-width="1.4"/>
<line x1="80.2" y1="492" x2="80.2" y2="495.5" stroke="#1a1a1a" stroke-width="1"/>
<line x1="106.6" y1="492" x2="106.6" y2="495.5" stroke="#1a1a1a" stroke-width="1"/>
<line x1="132.9" y1="492" x2="132.9" y2="495.5" stroke="#1a1a1a" stroke-width="1"/>
<line x1="159.2" y1="492" x2="159.2" y2="495.5" stroke="#1a1a1a" stroke-width="1"/>
<line x1="185.5" y1="492" x2="185.5" y2="495.5" stroke="#1a1a1a" stroke-width="1"/>
<line x1="312.5" y1="492" x2="489.5" y2="492" stroke="#1a1a1a" stroke-width="1.4"/>
<line x1="329.8" y1="492" x2="329.8" y2="495.5" stroke="#1a1a1a" stroke-width="1"/>
<line x1="358.5" y1="492" x2="358.5" y2="495.5" stroke="#1a1a1a" stroke-width="1"/>
<line x1="387.2" y1="492" x2="387.2" y2="495.5" stroke="#1a1a1a" stroke-width="1"/>
<line x1="415.9" y1="492" x2="415.9" y2="495.5" stroke="#1a1a1a" stroke-width="1"/>
<line x1="444.6" y1="492" x2="444.6" y2="495.5" stroke="#1a1a1a" stroke-width="1"/>
<line x1="473.3" y1="492" x2="473.3" y2="495.5" stroke="#1a1a1a" stroke-width="1"/>
<line x1="65" y1="636" x2="157.3" y2="636" stroke="#1a1a1a" stroke-width="1.4"/>
<line x1="90.8" y1="636" x2="90.8" y2="639.5" stroke="#1a1a1a" stroke-width="1"/>
<line x1="133.2" y1="636" x2="133.2" y2="639.5" stroke="#1a1a1a" stroke-width="1"/>
<line x1="180.5" y1="636.4" x2="235.4" y2="636.4" stroke="#1a1a1a" stroke-width="1.4"/>
<line x1="209.6" y1="636.4" x2="209.6" y2="639.9" stroke="#1a1a1a" stroke-width="1"/>
<line x1="312.5" y1="636.25" x2="400" y2="636.25" stroke="#1a1a1a" stroke-width="1.4"/>
<line x1="336.6" y1="636.25" x2="336.6" y2="639.75" stroke="#1a1a1a" stroke-width="1"/>
<line x1="383.4" y1="636.25" x2="383.4" y2="639.75" stroke="#1a1a1a" stroke-width="1"/>
<line x1="428" y1="636.25" x2="477.5" y2="636.25" stroke="#1a1a1a" stroke-width="1.4"/>
<line x1="458.2" y1="636.25" x2="458.2" y2="639.75" stroke="#1a1a1a" stroke-width="1"/>
<line x1="65.2" y1="781.3" x2="136.3" y2="781.3" stroke="#1a1a1a" stroke-width="1.4"/>
<line x1="82.7" y1="781.3" x2="82.7" y2="784.8" stroke="#1a1a1a" stroke-width="1"/>
<line x1="119.4" y1="781.3" x2="119.4" y2="784.8" stroke="#1a1a1a" stroke-width="1"/>
<line x1="179" y1="781.5" x2="250.4" y2="781.5" stroke="#1a1a1a" stroke-width="1.4"/>
<line x1="196.6" y1="781.5" x2="196.6" y2="785" stroke="#1a1a1a" stroke-width="1"/>
<line x1="233.5" y1="781.5" x2="233.5" y2="785" stroke="#1a1a1a" stroke-width="1"/>
<line x1="312.5" y1="781.25" x2="386.3" y2="781.25" stroke="#1a1a1a" stroke-width="1.4"/>
<line x1="330.6" y1="781.25" x2="330.6" y2="784.75" stroke="#1a1a1a" stroke-width="1"/>
<line x1="368.8" y1="781.25" x2="368.8" y2="784.75" stroke="#1a1a1a" stroke-width="1"/>
<line x1="427" y1="781.25" x2="500.5" y2="781.25" stroke="#1a1a1a" stroke-width="1.4"/>
<line x1="445" y1="781.25" x2="445" y2="784.75" stroke="#1a1a1a" stroke-width="1"/>
<line x1="483.4" y1="781.25" x2="483.4" y2="784.75" stroke="#1a1a1a" stroke-width="1"/>
<rect x="0" y="0" width="520" height="1.1" fill="#2a2a2a" stroke="none" stroke-width="0"/>
<rect x="0" y="0" width="1.1" height="818" fill="#3a3a3a" stroke="none" stroke-width="0"/>
<rect x="518.8" y="0" width="1.2" height="818" fill="#2a2a2a" stroke="none" stroke-width="0"/>
<rect x="0" y="816.2" width="520" height="1.8" fill="#2a2a2a" stroke="none" stroke-width="0"/>
</svg></body></html>
